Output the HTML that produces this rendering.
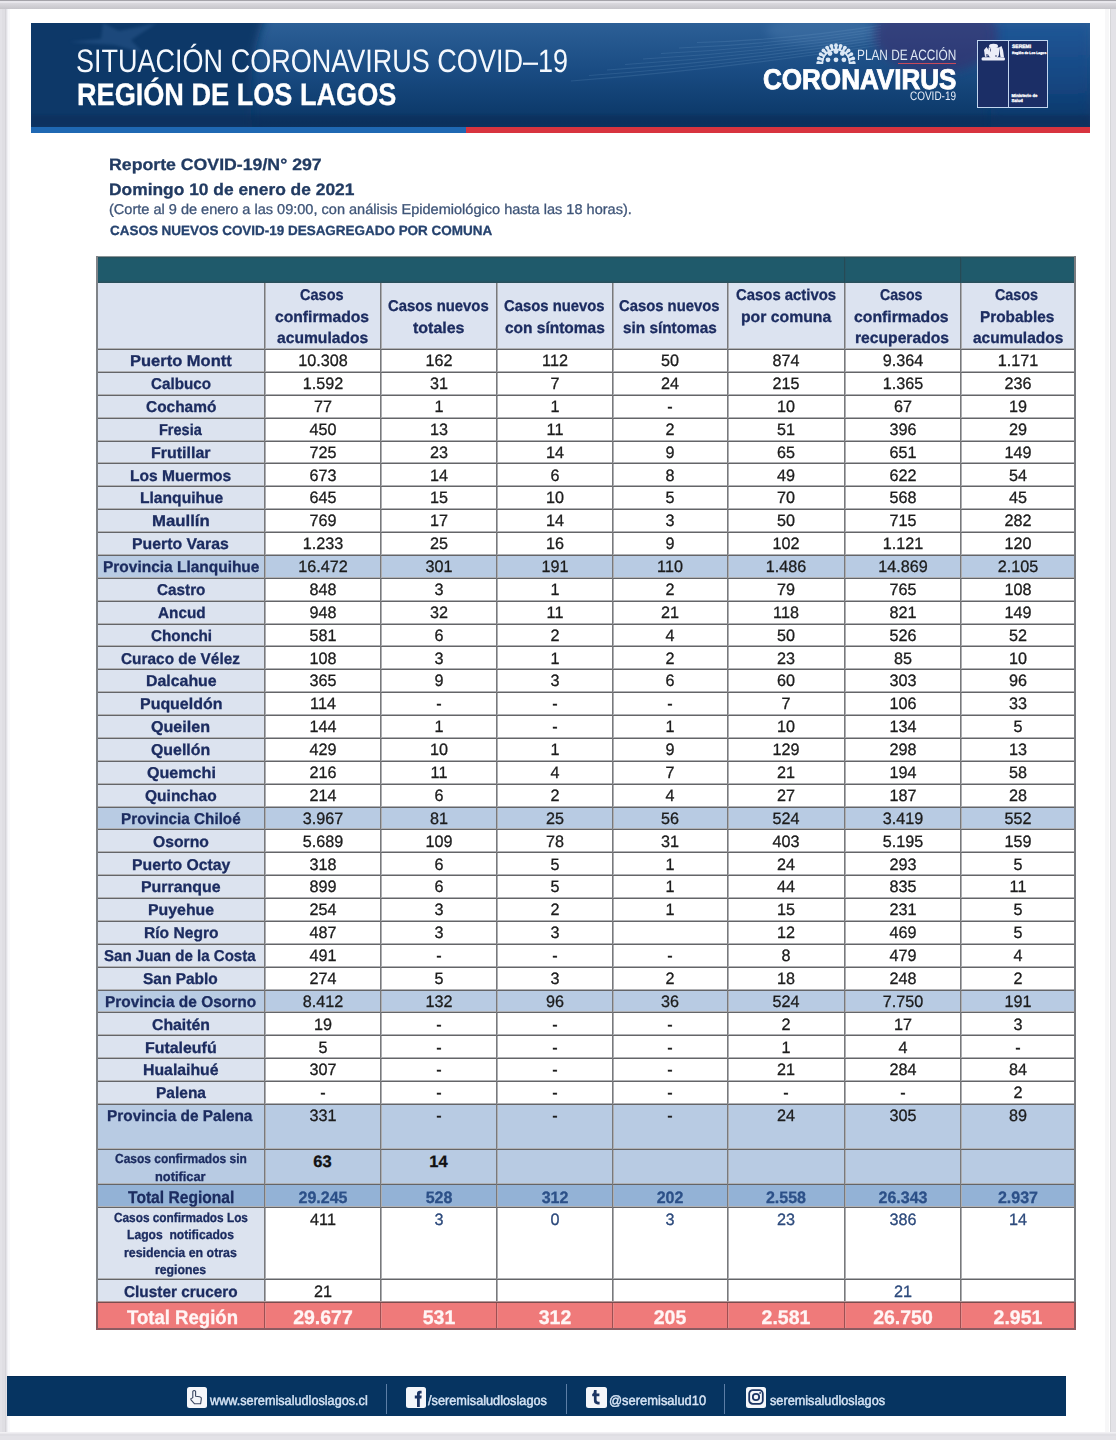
<!DOCTYPE html>
<html lang="es"><head><meta charset="utf-8"><title>Reporte COVID-19 Los Lagos</title>
<style>
html,body{margin:0;padding:0;}
body{width:1116px;height:1440px;overflow:hidden;position:relative;background:#e3e2e7;font-family:"Liberation Sans",sans-serif;}
body>div,body>svg{position:absolute;}
.t{position:absolute;white-space:pre;line-height:0;text-rendering:geometricPrecision;-webkit-text-stroke:0.3px currentColor;}
</style></head><body>
<div style="left:0px;top:0px;width:1116px;height:1440px;background:#e3e2e7;"></div>
<div style="left:0px;top:0px;width:1116px;height:1px;background:#a4a3a9;"></div>
<div style="left:0px;top:1px;width:1116px;height:2px;background:#e7e6eb;"></div>
<div style="left:0px;top:3px;width:1116px;height:6px;background:linear-gradient(#dbdadf,#c6c5ca);"></div>
<div style="left:5px;top:9px;width:1px;height:1426px;background:#d5d4d9;"></div>
<div style="left:2px;top:9px;width:3px;height:1423px;background:#dfdee3;"></div>
<div style="left:1110px;top:9px;width:1px;height:1425px;background:#d5d5d8;"></div>
<div style="left:0px;top:1432px;width:1116px;height:1px;background:#f1f0f3;"></div>
<div style="left:0px;top:1433px;width:1116px;height:1px;background:#e9e8ec;"></div>
<div style="left:0px;top:1434px;width:1116px;height:2px;background:#dfdee3;"></div>
<div style="left:7px;top:9px;width:1103px;height:1423px;background:#ffffff;"></div>
<div style="left:7px;top:9px;width:1px;height:1423px;background:#f0f0f4;"></div>
<div style="left:8px;top:9px;width:2px;height:1423px;background:#f9f9fb;"></div>
<div style="left:1105px;top:9px;width:4px;height:1423px;background:#f7f7f8;"></div>
<svg style="position:absolute;left:31px;top:23px" width="1059" height="104" viewBox="0 0 1059 104">
<defs>
<linearGradient id="gv" x1="0" y1="0" x2="0" y2="1">
<stop offset="0" stop-color="#2c5f96"/><stop offset="0.45" stop-color="#1a4c83"/><stop offset="0.8" stop-color="#0f3d6f"/><stop offset="1" stop-color="#0a3462"/></linearGradient>
<linearGradient id="gr" x1="0" y1="0" x2="0" y2="1">
<stop offset="0" stop-color="#215797"/><stop offset="0.6" stop-color="#134580"/><stop offset="1" stop-color="#0b3565"/></linearGradient>
<filter id="b4" x="-20%" y="-50%" width="140%" height="200%"><feGaussianBlur stdDeviation="5"/></filter>
<filter id="b2"><feGaussianBlur stdDeviation="1.5"/></filter>
</defs>
<rect x="0" y="0" width="1059" height="104" fill="url(#gv)"/>
<rect x="960" y="0" width="99" height="104" fill="url(#gr)" filter="url(#b4)"/>
<path d="M-10 -10 H236 Q214 40 222 114 H-10 Z" fill="#0c3767" filter="url(#b4)"/>
<path d="M38 19 L70 16 L72 0 L88 8 L126 0 L100 17 L112 30 L84 22 Z" fill="#36649a" opacity="0.38" filter="url(#b2)"/>
<path d="M540 58.0 Q695.0 46.0 850 22.0" stroke="#8ab2da" stroke-width="1.1" fill="none" opacity="0.16"/>
<path d="M558 52.5 Q704.0 41.9 850 19.2" stroke="#8ab2da" stroke-width="1.1" fill="none" opacity="0.16"/>
<path d="M576 47.0 Q713.0 37.7 850 16.4" stroke="#8ab2da" stroke-width="1.1" fill="none" opacity="0.16"/>
<path d="M594 41.5 Q722.0 33.5 850 13.6" stroke="#8ab2da" stroke-width="1.1" fill="none" opacity="0.16"/>
<path d="M612 36.0 Q731.0 29.4 850 10.8" stroke="#8ab2da" stroke-width="1.1" fill="none" opacity="0.16"/>
<path d="M630 30.5 Q740.0 25.2 850 8.0" stroke="#8ab2da" stroke-width="1.1" fill="none" opacity="0.16"/>
<path d="M648 25.0 Q749.0 21.1 850 5.2" stroke="#8ab2da" stroke-width="1.1" fill="none" opacity="0.16"/>
<path d="M666 19.5 Q758.0 17.0 850 2.4" stroke="#8ab2da" stroke-width="1.1" fill="none" opacity="0.16"/>
<ellipse cx="790" cy="8" rx="55" ry="14" fill="#6a98c8" opacity="0.22" filter="url(#b4)"/>
<ellipse cx="905" cy="12" rx="62" ry="38" fill="#3a2a6a" opacity="0.55" filter="url(#b4)"/>
<rect x="0" y="92" width="1059" height="12" fill="#072b55" opacity="0.45" filter="url(#b2)"/>
</svg>
<div style="left:31px;top:127px;width:435px;height:6px;background:#1f68b3;"></div>
<div style="left:466px;top:127px;width:624px;height:6px;background:#d8343f;"></div>
<div style="left:977px;top:40px;width:69px;height:66px;border:1.4px solid #c2d6ef;background:#1b2e66;"></div>
<div style="left:1007.6px;top:40px;width:1.4px;height:68px;background:#c2d6ef;"></div>
<svg style="position:absolute;left:980px;top:42px" width="27" height="21" viewBox="980 42 27 21">
<g fill="#eceef8">
<ellipse cx="993.5" cy="46" rx="4.5" ry="2.2"/>
<path d="M988.5 47.5 H999 V54 Q999 58 993.7 59 Q988.5 58 988.5 54 Z"/>
<path d="M984 50 L986.5 47 L990 52 L988 56 L985 57 Z"/>
<path d="M999 47.5 L1001.5 46 L1003 50 L1004 57 L1000.5 57 Z"/>
<rect x="981.5" y="57.3" width="23.5" height="3.2" rx="1.5"/>
</g>
<g fill="#2a3566" opacity="0.7"><circle cx="987" cy="55" r="1.1"/><circle cx="996" cy="56" r="0.9"/><rect x="990" y="48.5" width="1" height="3"/></g>
</svg>
<div class="t" style="left:1012px;top:45px;font-size:5px;font-weight:700;color:#fff;line-height:5px">SEREMI</div>
<div class="t" style="left:1012px;top:51px;font-size:3.4px;font-weight:700;color:#fff;line-height:4px">Región de Los Lagos</div>
<div class="t" style="left:1011.5px;top:94px;font-size:4.2px;font-weight:700;color:#fff;line-height:4.6px">Ministerio de<br>Salud</div>
<svg style="position:absolute;left:813.5px;top:39.4px" width="44" height="25" viewBox="813.5 39.4 44 25"><g fill="#dbe7f4" stroke="none"><line x1="822.70" y1="63.40" x2="817.70" y2="63.40" stroke="#dbe7f4" stroke-width="2.6"/><circle cx="817.70" cy="63.40" r="1.9"/><line x1="823.14" y1="60.09" x2="818.31" y2="58.79" stroke="#dbe7f4" stroke-width="2.6"/><circle cx="818.31" cy="58.79" r="1.9"/><line x1="824.41" y1="57.00" x2="820.08" y2="54.50" stroke="#dbe7f4" stroke-width="2.6"/><circle cx="820.08" cy="54.50" r="1.9"/><line x1="826.45" y1="54.35" x2="822.91" y2="50.81" stroke="#dbe7f4" stroke-width="2.6"/><circle cx="822.91" cy="50.81" r="1.9"/><line x1="829.10" y1="52.31" x2="826.60" y2="47.98" stroke="#dbe7f4" stroke-width="2.6"/><circle cx="826.60" cy="47.98" r="1.9"/><line x1="832.19" y1="51.04" x2="830.89" y2="46.21" stroke="#dbe7f4" stroke-width="2.6"/><circle cx="830.89" cy="46.21" r="1.9"/><line x1="835.50" y1="50.60" x2="835.50" y2="45.60" stroke="#dbe7f4" stroke-width="2.6"/><circle cx="835.50" cy="45.60" r="1.9"/><line x1="838.81" y1="51.04" x2="840.11" y2="46.21" stroke="#dbe7f4" stroke-width="2.6"/><circle cx="840.11" cy="46.21" r="1.9"/><line x1="841.90" y1="52.31" x2="844.40" y2="47.98" stroke="#dbe7f4" stroke-width="2.6"/><circle cx="844.40" cy="47.98" r="1.9"/><line x1="844.55" y1="54.35" x2="848.09" y2="50.81" stroke="#dbe7f4" stroke-width="2.6"/><circle cx="848.09" cy="50.81" r="1.9"/><line x1="846.59" y1="57.00" x2="850.92" y2="54.50" stroke="#dbe7f4" stroke-width="2.6"/><circle cx="850.92" cy="54.50" r="1.9"/><line x1="847.86" y1="60.09" x2="852.69" y2="58.79" stroke="#dbe7f4" stroke-width="2.6"/><circle cx="852.69" cy="58.79" r="1.9"/><line x1="848.30" y1="63.40" x2="853.30" y2="63.40" stroke="#dbe7f4" stroke-width="2.6"/><circle cx="853.30" cy="63.40" r="1.9"/><path d="M821.9 63.4 A13.6 13.6 0 0 1 849.1 63.4" fill="none" stroke="#dbe7f4" stroke-width="1.6"/><circle cx="829.5" cy="53.9" r="2.4"/><circle cx="835.5" cy="51.9" r="2.4"/><circle cx="841.8" cy="53.9" r="2.4"/><circle cx="827.5" cy="60.199999999999996" r="2.4"/><circle cx="835.5" cy="60.199999999999996" r="2.4"/><circle cx="843.4" cy="60.199999999999996" r="2.4"/></g></svg>
<div style="left:898px;top:63px;width:57.5px;height:1.2px;background:#c84a5a;"></div>
<div style="left:96px;top:257px;width:980px;height:26px;background:linear-gradient(180deg,#2a4f5a 0px,#1f5a6b 2px,#1f5a6b 23px,#2b4d58 26px);"></div>
<div style="left:96px;top:283px;width:980px;height:66px;background:#dce3f0;"></div>
<div style="left:96px;top:349.0px;width:168.5px;height:22.87900000000002px;background:#dce3ef;"></div>
<div style="left:96px;top:371.879px;width:168.5px;height:22.878999999999962px;background:#dce3ef;"></div>
<div style="left:96px;top:394.758px;width:168.5px;height:22.87900000000002px;background:#dce3ef;"></div>
<div style="left:96px;top:417.637px;width:168.5px;height:22.87900000000002px;background:#dce3ef;"></div>
<div style="left:96px;top:440.516px;width:168.5px;height:22.878999999999962px;background:#dce3ef;"></div>
<div style="left:96px;top:463.395px;width:168.5px;height:22.87900000000002px;background:#dce3ef;"></div>
<div style="left:96px;top:486.274px;width:168.5px;height:22.87900000000002px;background:#dce3ef;"></div>
<div style="left:96px;top:509.153px;width:168.5px;height:22.87900000000002px;background:#dce3ef;"></div>
<div style="left:96px;top:532.032px;width:168.5px;height:22.87900000000002px;background:#dce3ef;"></div>
<div style="left:96px;top:554.9110000000001px;width:980px;height:22.878999999999905px;background:#b8cbe3;"></div>
<div style="left:96px;top:577.79px;width:168.5px;height:22.87900000000002px;background:#dce3ef;"></div>
<div style="left:96px;top:600.669px;width:168.5px;height:22.87900000000002px;background:#dce3ef;"></div>
<div style="left:96px;top:623.548px;width:168.5px;height:22.87900000000002px;background:#dce3ef;"></div>
<div style="left:96px;top:646.427px;width:168.5px;height:22.87900000000002px;background:#dce3ef;"></div>
<div style="left:96px;top:669.306px;width:168.5px;height:22.878999999999905px;background:#dce3ef;"></div>
<div style="left:96px;top:692.185px;width:168.5px;height:22.879000000000133px;background:#dce3ef;"></div>
<div style="left:96px;top:715.0640000000001px;width:168.5px;height:22.878999999999905px;background:#dce3ef;"></div>
<div style="left:96px;top:737.943px;width:168.5px;height:22.87900000000002px;background:#dce3ef;"></div>
<div style="left:96px;top:760.822px;width:168.5px;height:22.87900000000002px;background:#dce3ef;"></div>
<div style="left:96px;top:783.701px;width:168.5px;height:22.87900000000002px;background:#dce3ef;"></div>
<div style="left:96px;top:806.58px;width:980px;height:22.87900000000002px;background:#b8cbe3;"></div>
<div style="left:96px;top:829.4590000000001px;width:168.5px;height:22.878999999999905px;background:#dce3ef;"></div>
<div style="left:96px;top:852.338px;width:168.5px;height:22.87900000000002px;background:#dce3ef;"></div>
<div style="left:96px;top:875.217px;width:168.5px;height:22.87900000000002px;background:#dce3ef;"></div>
<div style="left:96px;top:898.096px;width:168.5px;height:22.87900000000002px;background:#dce3ef;"></div>
<div style="left:96px;top:920.975px;width:168.5px;height:22.87900000000002px;background:#dce3ef;"></div>
<div style="left:96px;top:943.854px;width:168.5px;height:22.87900000000002px;background:#dce3ef;"></div>
<div style="left:96px;top:966.7330000000001px;width:168.5px;height:22.87900000000002px;background:#dce3ef;"></div>
<div style="left:96px;top:989.6120000000001px;width:980px;height:22.878999999999905px;background:#b8cbe3;"></div>
<div style="left:96px;top:1012.491px;width:168.5px;height:22.878999999999905px;background:#dce3ef;"></div>
<div style="left:96px;top:1035.37px;width:168.5px;height:22.879000000000133px;background:#dce3ef;"></div>
<div style="left:96px;top:1058.249px;width:168.5px;height:22.879000000000133px;background:#dce3ef;"></div>
<div style="left:96px;top:1081.1280000000002px;width:168.5px;height:22.878999999999905px;background:#dce3ef;"></div>
<div style="left:96px;top:1104.007px;width:980px;height:80.29299999999989px;background:#b8cbe3;"></div>
<div style="left:96px;top:1184.3px;width:980px;height:22.799999999999955px;background:#93b2d6;"></div>
<div style="left:96px;top:1207.1px;width:168.5px;height:94.90000000000009px;background:#dce3ef;"></div>
<div style="left:96px;top:1302.0px;width:980px;height:26.90000000000009px;background:#ef7a7a;"></div>
<div style="left:96px;top:348px;width:980px;height:1px;background:#b0b1b4;"></div>
<div style="left:96px;top:371px;width:980px;height:1px;background:#b0b1b4;"></div>
<div style="left:96px;top:394px;width:980px;height:1px;background:#b0b1b4;"></div>
<div style="left:96px;top:417px;width:980px;height:1px;background:#b0b1b4;"></div>
<div style="left:96px;top:440px;width:980px;height:1px;background:#b0b1b4;"></div>
<div style="left:96px;top:462px;width:980px;height:1px;background:#b0b1b4;"></div>
<div style="left:96px;top:485px;width:980px;height:1px;background:#b0b1b4;"></div>
<div style="left:96px;top:508px;width:980px;height:1px;background:#b0b1b4;"></div>
<div style="left:96px;top:531px;width:980px;height:1px;background:#b0b1b4;"></div>
<div style="left:96px;top:554px;width:980px;height:1px;background:#b0b1b4;"></div>
<div style="left:96px;top:577px;width:980px;height:1px;background:#b0b1b4;"></div>
<div style="left:96px;top:600px;width:980px;height:1px;background:#b0b1b4;"></div>
<div style="left:96px;top:623px;width:980px;height:1px;background:#b0b1b4;"></div>
<div style="left:96px;top:645px;width:980px;height:1px;background:#b0b1b4;"></div>
<div style="left:96px;top:668px;width:980px;height:1px;background:#b0b1b4;"></div>
<div style="left:96px;top:691px;width:980px;height:1px;background:#b0b1b4;"></div>
<div style="left:96px;top:714px;width:980px;height:1px;background:#b0b1b4;"></div>
<div style="left:96px;top:737px;width:980px;height:1px;background:#b0b1b4;"></div>
<div style="left:96px;top:760px;width:980px;height:1px;background:#b0b1b4;"></div>
<div style="left:96px;top:783px;width:980px;height:1px;background:#b0b1b4;"></div>
<div style="left:96px;top:806px;width:980px;height:1px;background:#b0b1b4;"></div>
<div style="left:96px;top:828px;width:980px;height:1px;background:#b0b1b4;"></div>
<div style="left:96px;top:851px;width:980px;height:1px;background:#b0b1b4;"></div>
<div style="left:96px;top:874px;width:980px;height:1px;background:#b0b1b4;"></div>
<div style="left:96px;top:897px;width:980px;height:1px;background:#b0b1b4;"></div>
<div style="left:96px;top:920px;width:980px;height:1px;background:#b0b1b4;"></div>
<div style="left:96px;top:943px;width:980px;height:1px;background:#b0b1b4;"></div>
<div style="left:96px;top:966px;width:980px;height:1px;background:#b0b1b4;"></div>
<div style="left:96px;top:989px;width:980px;height:1px;background:#b0b1b4;"></div>
<div style="left:96px;top:1011px;width:980px;height:1px;background:#b0b1b4;"></div>
<div style="left:96px;top:1034px;width:980px;height:1px;background:#b0b1b4;"></div>
<div style="left:96px;top:1057px;width:980px;height:1px;background:#b0b1b4;"></div>
<div style="left:96px;top:1080px;width:980px;height:1px;background:#b0b1b4;"></div>
<div style="left:96px;top:1103px;width:980px;height:1px;background:#b0b1b4;"></div>
<div style="left:96px;top:1148px;width:980px;height:1px;background:#b0b1b4;"></div>
<div style="left:96px;top:1183px;width:980px;height:1px;background:#b0b1b4;"></div>
<div style="left:96px;top:1206px;width:980px;height:1px;background:#b0b1b4;"></div>
<div style="left:96px;top:1278px;width:980px;height:1px;background:#b0b1b4;"></div>
<div style="left:96px;top:1301px;width:980px;height:1px;background:#b0b1b4;"></div>
<div style="left:96px;top:1328px;width:980px;height:1px;background:#b0b1b4;"></div>
<div style="left:265px;top:283px;width:1px;height:1046px;background:#acadb0;"></div>
<div style="left:381px;top:283px;width:1px;height:1046px;background:#acadb0;"></div>
<div style="left:497px;top:283px;width:1px;height:1046px;background:#acadb0;"></div>
<div style="left:613px;top:283px;width:1px;height:1046px;background:#acadb0;"></div>
<div style="left:728px;top:283px;width:1px;height:1046px;background:#acadb0;"></div>
<div style="left:845px;top:283px;width:1px;height:1046px;background:#acadb0;"></div>
<div style="left:961px;top:283px;width:1px;height:1046px;background:#acadb0;"></div>
<div style="left:96px;top:349px;width:980px;height:1px;background:#646568;"></div>
<div style="left:96px;top:372px;width:980px;height:1px;background:#646568;"></div>
<div style="left:96px;top:395px;width:980px;height:1px;background:#646568;"></div>
<div style="left:96px;top:418px;width:980px;height:1px;background:#646568;"></div>
<div style="left:96px;top:441px;width:980px;height:1px;background:#646568;"></div>
<div style="left:96px;top:463px;width:980px;height:1px;background:#646568;"></div>
<div style="left:96px;top:486px;width:980px;height:1px;background:#646568;"></div>
<div style="left:96px;top:509px;width:980px;height:1px;background:#646568;"></div>
<div style="left:96px;top:532px;width:980px;height:1px;background:#646568;"></div>
<div style="left:96px;top:555px;width:980px;height:1px;background:#646568;"></div>
<div style="left:96px;top:578px;width:980px;height:1px;background:#646568;"></div>
<div style="left:96px;top:601px;width:980px;height:1px;background:#646568;"></div>
<div style="left:96px;top:624px;width:980px;height:1px;background:#646568;"></div>
<div style="left:96px;top:646px;width:980px;height:1px;background:#646568;"></div>
<div style="left:96px;top:669px;width:980px;height:1px;background:#646568;"></div>
<div style="left:96px;top:692px;width:980px;height:1px;background:#646568;"></div>
<div style="left:96px;top:715px;width:980px;height:1px;background:#646568;"></div>
<div style="left:96px;top:738px;width:980px;height:1px;background:#646568;"></div>
<div style="left:96px;top:761px;width:980px;height:1px;background:#646568;"></div>
<div style="left:96px;top:784px;width:980px;height:1px;background:#646568;"></div>
<div style="left:96px;top:807px;width:980px;height:1px;background:#646568;"></div>
<div style="left:96px;top:829px;width:980px;height:1px;background:#646568;"></div>
<div style="left:96px;top:852px;width:980px;height:1px;background:#646568;"></div>
<div style="left:96px;top:875px;width:980px;height:1px;background:#646568;"></div>
<div style="left:96px;top:898px;width:980px;height:1px;background:#646568;"></div>
<div style="left:96px;top:921px;width:980px;height:1px;background:#646568;"></div>
<div style="left:96px;top:944px;width:980px;height:1px;background:#646568;"></div>
<div style="left:96px;top:967px;width:980px;height:1px;background:#646568;"></div>
<div style="left:96px;top:990px;width:980px;height:1px;background:#646568;"></div>
<div style="left:96px;top:1012px;width:980px;height:1px;background:#646568;"></div>
<div style="left:96px;top:1035px;width:980px;height:1px;background:#646568;"></div>
<div style="left:96px;top:1058px;width:980px;height:1px;background:#646568;"></div>
<div style="left:96px;top:1081px;width:980px;height:1px;background:#646568;"></div>
<div style="left:96px;top:1104px;width:980px;height:1px;background:#646568;"></div>
<div style="left:96px;top:1149px;width:980px;height:1px;background:#646568;"></div>
<div style="left:96px;top:1184px;width:980px;height:1px;background:#646568;"></div>
<div style="left:96px;top:1207px;width:980px;height:1px;background:#646568;"></div>
<div style="left:96px;top:1279px;width:980px;height:1px;background:#646568;"></div>
<div style="left:96px;top:1302px;width:980px;height:1px;background:#646568;"></div>
<div style="left:96px;top:1329px;width:980px;height:1px;background:#646568;"></div>
<div style="left:264px;top:283px;width:1px;height:1046px;background:#78797c;"></div>
<div style="left:380px;top:283px;width:1px;height:1046px;background:#78797c;"></div>
<div style="left:496px;top:283px;width:1px;height:1046px;background:#78797c;"></div>
<div style="left:612px;top:283px;width:1px;height:1046px;background:#78797c;"></div>
<div style="left:727px;top:283px;width:1px;height:1046px;background:#78797c;"></div>
<div style="left:844px;top:283px;width:1px;height:1046px;background:#78797c;"></div>
<div style="left:960px;top:283px;width:1px;height:1046px;background:#78797c;"></div>
<div style="left:264px;top:1303px;width:1px;height:26px;background:#9e4f52;"></div>
<div style="left:265px;top:1303px;width:1px;height:26px;background:#e58c8c;"></div>
<div style="left:380px;top:1303px;width:1px;height:26px;background:#9e4f52;"></div>
<div style="left:381px;top:1303px;width:1px;height:26px;background:#e58c8c;"></div>
<div style="left:496px;top:1303px;width:1px;height:26px;background:#9e4f52;"></div>
<div style="left:497px;top:1303px;width:1px;height:26px;background:#e58c8c;"></div>
<div style="left:612px;top:1303px;width:1px;height:26px;background:#9e4f52;"></div>
<div style="left:613px;top:1303px;width:1px;height:26px;background:#e58c8c;"></div>
<div style="left:727px;top:1303px;width:1px;height:26px;background:#9e4f52;"></div>
<div style="left:728px;top:1303px;width:1px;height:26px;background:#e58c8c;"></div>
<div style="left:844px;top:1303px;width:1px;height:26px;background:#9e4f52;"></div>
<div style="left:845px;top:1303px;width:1px;height:26px;background:#e58c8c;"></div>
<div style="left:960px;top:1303px;width:1px;height:26px;background:#9e4f52;"></div>
<div style="left:961px;top:1303px;width:1px;height:26px;background:#e58c8c;"></div>
<div style="left:96px;top:1302px;width:980px;height:1px;background:#7a4c4e;"></div>
<div style="left:96px;top:1301px;width:980px;height:1px;background:#b09a9a;"></div>
<div style="left:96px;top:256px;width:980px;height:1px;background:#8a9598;"></div>
<div style="left:844px;top:257px;width:1px;height:26px;background:#264a55;"></div>
<div style="left:845px;top:257px;width:1px;height:26px;background:#245565;"></div>
<div style="left:960px;top:257px;width:1px;height:26px;background:#264a55;"></div>
<div style="left:961px;top:257px;width:1px;height:26px;background:#245565;"></div>
<div style="left:96px;top:256px;width:2px;height:1073px;background:#7f8388;"></div>
<div style="left:1074px;top:256px;width:2px;height:1073px;background:#7a7c80;"></div>
<div style="left:96px;top:1302px;width:2px;height:27px;background:#8a5a5e;"></div>
<div style="left:1074px;top:1302px;width:2px;height:27px;background:#8a5a5e;"></div>
<div style="left:96px;top:1328px;width:980px;height:2px;background:#8c5c62;"></div>
<div style="left:7px;top:1376px;width:1059px;height:40px;background:#063461;"></div>
<div style="left:7px;top:1376px;width:1059px;height:1px;background:#052c55;"></div>
<div style="left:386px;top:1384px;width:1.3px;height:30px;background:#5c7ea6;"></div>
<div style="left:566px;top:1384px;width:1.3px;height:30px;background:#5c7ea6;"></div>
<div style="left:724px;top:1384px;width:1.3px;height:30px;background:#5c7ea6;"></div>
<div style="left:186.8px;top:1387px;width:20.5px;height:20.5px;background:#f4f6fa;border-radius:2.5px;overflow:hidden"><svg width="20" height="20" viewBox="0 0 20 20"><path d="M5.8 10.5 L5.8 4.4 Q7.2 2.6 8.6 4.4 L8.6 9.2 L12.6 9.8 Q14.7 10.2 14.3 12.2 L13.6 16.8 L7.6 16.8 L4 12.8 Q3.4 11 5 11.2 Z" fill="none" stroke="#3a4660" stroke-width="1.1" stroke-linejoin="round"/></svg></div>
<div style="left:405.5px;top:1387px;width:20.5px;height:20.5px;background:#f4f6fa;border-radius:2.5px;overflow:hidden"><svg width="20" height="20" viewBox="0 0 20 20"><path d="M11 20 L11 11.5 L8.8 11.5 L8.8 8.6 L11 8.6 L11 6.6 Q11 3.8 13.9 3.8 L15.6 3.8 L15.6 6.5 L14.4 6.5 Q13.8 6.5 13.8 7.2 L13.8 8.6 L15.7 8.6 L15.4 11.5 L13.8 11.5 L13.8 20 Z" fill="#1c3563"/></svg></div>
<div style="left:586.3px;top:1387px;width:20.5px;height:20.5px;background:#f4f6fa;border-radius:2.5px;overflow:hidden"><svg width="20" height="20" viewBox="0 0 20 20"><path d="M8 3 L10.6 3 L10.6 6.6 L13.4 6.6 L13.4 9.2 L10.6 9.2 L10.6 13 Q10.6 14.8 12.3 14.8 L13.6 14.8 L13.6 17.4 L11.8 17.4 Q7.9 17.4 7.9 13.6 L7.9 9.2 L6.2 9.2 L6.2 7 Q8 6.4 8 3 Z" fill="#1c3563"/></svg></div>
<div style="left:745.6px;top:1387px;width:20.5px;height:20.5px;background:#f4f6fa;border-radius:2.5px;overflow:hidden"><svg width="20" height="20" viewBox="0 0 20 20"><rect x="3.2" y="3.2" width="13.6" height="13.6" rx="3.6" fill="none" stroke="#1c3563" stroke-width="1.8"/><circle cx="10" cy="10" r="3.2" fill="none" stroke="#1c3563" stroke-width="1.8"/><circle cx="14.1" cy="5.9" r="0.9" fill="#1c3563"/></svg></div>
<div class="t" style="top:60.5px;font-size:32.5px;font-weight:400;color:#f4f8fd;left:75.94px;transform:scaleX(0.8315);transform-origin:0 0;-webkit-text-stroke:0;">SITUACIÓN CORONAVIRUS COVID–19</div>
<div class="t" style="top:95.4px;font-size:31px;font-weight:700;color:#ffffff;left:76.95px;transform:scaleX(0.8746);transform-origin:0 0;">REGIÓN DE LOS LAGOS</div>
<div class="t" style="top:56.4px;font-size:15px;font-weight:400;color:#dfe8f4;left:856.81px;transform:scaleX(0.7887);transform-origin:0 0;-webkit-text-stroke:0;">PLAN DE ACCIÓN</div>
<div class="t" style="top:79.6px;font-size:28.5px;font-weight:700;color:#ffffff;left:762.59px;transform:scaleX(0.9138);transform-origin:0 0;-webkit-text-stroke:0.9px #fff;">CORONAVIRUS</div>
<div class="t" style="top:96px;font-size:12.3px;font-weight:400;color:#e8eef8;left:909.99px;transform:scaleX(0.8109);transform-origin:0 0;-webkit-text-stroke:0;">COVID-19</div>
<div class="t" style="top:164.9px;font-size:16.4px;font-weight:700;color:#223b62;left:109.02px;transform:scaleX(1.0800);transform-origin:0 0;">Reporte COVID-19/N° 297</div>
<div class="t" style="top:189.9px;font-size:16.6px;font-weight:700;color:#223b62;left:109.05px;transform:scaleX(1.0476);transform-origin:0 0;">Domingo 10 de enero de 2021</div>
<div class="t" style="top:210.3px;font-size:14.2px;font-weight:400;color:#3f5578;left:109.08px;transform:scaleX(1.0246);transform-origin:0 0;">(Corte al 9 de enero a las 09:00, con análisis Epidemiológico hasta las 18 horas).</div>
<div class="t" style="top:231.1px;font-size:13.4px;font-weight:700;color:#26436f;left:110.1px;transform:scaleX(1.0050);transform-origin:0 0;">CASOS NUEVOS COVID-19 DESAGREGADO POR COMUNA</div>
<div class="t" style="top:296.4px;font-size:15.6px;font-weight:700;color:#1c2c60;left:300.47px;transform:scaleX(0.9311);transform-origin:0 0;">Casos</div>
<div class="t" style="top:317.9px;font-size:15.6px;font-weight:700;color:#1c2c60;left:275.09px;transform:scaleX(1.0054);transform-origin:0 0;">confirmados</div>
<div class="t" style="top:339.4px;font-size:15.6px;font-weight:700;color:#1c2c60;left:277.2px;transform:scaleX(1.0033);transform-origin:0 0;">acumulados</div>
<div class="t" style="top:307.3px;font-size:15.6px;font-weight:700;color:#1c2c60;left:388.05px;transform:scaleX(0.9519);transform-origin:0 0;">Casos nuevos</div>
<div class="t" style="top:328.5px;font-size:15.6px;font-weight:700;color:#1c2c60;left:412.7px;transform:scaleX(1.0240);transform-origin:0 0;">totales</div>
<div class="t" style="top:307.3px;font-size:15.6px;font-weight:700;color:#1c2c60;left:503.55px;transform:scaleX(0.9510);transform-origin:0 0;">Casos nuevos</div>
<div class="t" style="top:328.5px;font-size:15.6px;font-weight:700;color:#1c2c60;left:504.51px;transform:scaleX(0.9929);transform-origin:0 0;">con síntomas</div>
<div class="t" style="top:307.3px;font-size:15.6px;font-weight:700;color:#1c2c60;left:619.35px;transform:scaleX(0.9500);transform-origin:0 0;">Casos nuevos</div>
<div class="t" style="top:328.5px;font-size:15.6px;font-weight:700;color:#1c2c60;left:622.52px;transform:scaleX(0.9830);transform-origin:0 0;">sin síntomas</div>
<div class="t" style="top:295.8px;font-size:15.6px;font-weight:700;color:#1c2c60;left:735.55px;transform:scaleX(0.9544);transform-origin:0 0;">Casos activos</div>
<div class="t" style="top:317.5px;font-size:15.6px;font-weight:700;color:#1c2c60;left:740.69px;transform:scaleX(1.0102);transform-origin:0 0;">por comuna</div>
<div class="t" style="top:296.4px;font-size:15.6px;font-weight:700;color:#1c2c60;left:880.39px;transform:scaleX(0.9067);transform-origin:0 0;">Casos</div>
<div class="t" style="top:317.9px;font-size:15.6px;font-weight:700;color:#1c2c60;left:853.89px;transform:scaleX(1.0109);transform-origin:0 0;">confirmados</div>
<div class="t" style="top:339.4px;font-size:15.6px;font-weight:700;color:#1c2c60;left:854.5px;transform:scaleX(1.0043);transform-origin:0 0;">recuperados</div>
<div class="t" style="top:296.2px;font-size:15.6px;font-weight:700;color:#1c2c60;left:995.28px;transform:scaleX(0.9200);transform-origin:0 0;">Casos</div>
<div class="t" style="top:317.7px;font-size:15.6px;font-weight:700;color:#1c2c60;left:979.81px;transform:scaleX(0.9851);transform-origin:0 0;">Probables</div>
<div class="t" style="top:339.2px;font-size:15.6px;font-weight:700;color:#1c2c60;left:972.5px;transform:scaleX(0.9922);transform-origin:0 0;">acumulados</div>
<div class="t" style="top:362.18px;font-size:15.7px;font-weight:700;color:#1c2c60;left:129.65px;transform:scaleX(1.0521);transform-origin:0 0;">Puerto Montt</div>
<div class="t" style="top:361.18px;font-size:16.5px;font-weight:400;color:#1c1c1c;left:22.5px;width:600px;text-align:center;transform:scaleX(0.98);transform-origin:300px 0;">10.308</div>
<div class="t" style="top:361.18px;font-size:16.5px;font-weight:400;color:#1c1c1c;left:138.5px;width:600px;text-align:center;transform:scaleX(0.98);transform-origin:300px 0;">162</div>
<div class="t" style="top:361.18px;font-size:16.5px;font-weight:400;color:#1c1c1c;left:254.5px;width:600px;text-align:center;transform:scaleX(0.98);transform-origin:300px 0;">112</div>
<div class="t" style="top:361.18px;font-size:16.5px;font-weight:400;color:#1c1c1c;left:370.0px;width:600px;text-align:center;transform:scaleX(0.98);transform-origin:300px 0;">50</div>
<div class="t" style="top:361.18px;font-size:16.5px;font-weight:400;color:#1c1c1c;left:486.0px;width:600px;text-align:center;transform:scaleX(0.98);transform-origin:300px 0;">874</div>
<div class="t" style="top:361.18px;font-size:16.5px;font-weight:400;color:#1c1c1c;left:602.5px;width:600px;text-align:center;transform:scaleX(0.98);transform-origin:300px 0;">9.364</div>
<div class="t" style="top:361.18px;font-size:16.5px;font-weight:400;color:#1c1c1c;left:717.75px;width:600px;text-align:center;transform:scaleX(0.98);transform-origin:300px 0;">1.171</div>
<div class="t" style="top:385.06px;font-size:15.7px;font-weight:700;color:#1c2c60;left:151.13px;transform:scaleX(0.9683);transform-origin:0 0;">Calbuco</div>
<div class="t" style="top:384.06px;font-size:16.5px;font-weight:400;color:#1c1c1c;left:22.5px;width:600px;text-align:center;transform:scaleX(0.98);transform-origin:300px 0;">1.592</div>
<div class="t" style="top:384.06px;font-size:16.5px;font-weight:400;color:#1c1c1c;left:138.5px;width:600px;text-align:center;transform:scaleX(0.98);transform-origin:300px 0;">31</div>
<div class="t" style="top:384.06px;font-size:16.5px;font-weight:400;color:#1c1c1c;left:254.5px;width:600px;text-align:center;transform:scaleX(0.98);transform-origin:300px 0;">7</div>
<div class="t" style="top:384.06px;font-size:16.5px;font-weight:400;color:#1c1c1c;left:370.0px;width:600px;text-align:center;transform:scaleX(0.98);transform-origin:300px 0;">24</div>
<div class="t" style="top:384.06px;font-size:16.5px;font-weight:400;color:#1c1c1c;left:486.0px;width:600px;text-align:center;transform:scaleX(0.98);transform-origin:300px 0;">215</div>
<div class="t" style="top:384.06px;font-size:16.5px;font-weight:400;color:#1c1c1c;left:602.5px;width:600px;text-align:center;transform:scaleX(0.98);transform-origin:300px 0;">1.365</div>
<div class="t" style="top:384.06px;font-size:16.5px;font-weight:400;color:#1c1c1c;left:717.75px;width:600px;text-align:center;transform:scaleX(0.98);transform-origin:300px 0;">236</div>
<div class="t" style="top:407.94px;font-size:15.7px;font-weight:700;color:#1c2c60;left:145.72px;transform:scaleX(0.9843);transform-origin:0 0;">Cochamó</div>
<div class="t" style="top:406.94px;font-size:16.5px;font-weight:400;color:#1c1c1c;left:22.5px;width:600px;text-align:center;transform:scaleX(0.98);transform-origin:300px 0;">77</div>
<div class="t" style="top:406.94px;font-size:16.5px;font-weight:400;color:#1c1c1c;left:138.5px;width:600px;text-align:center;transform:scaleX(0.98);transform-origin:300px 0;">1</div>
<div class="t" style="top:406.94px;font-size:16.5px;font-weight:400;color:#1c1c1c;left:254.5px;width:600px;text-align:center;transform:scaleX(0.98);transform-origin:300px 0;">1</div>
<div class="t" style="top:406.94px;font-size:16.5px;font-weight:400;color:#1c1c1c;left:370.0px;width:600px;text-align:center;transform:scaleX(0.98);transform-origin:300px 0;">-</div>
<div class="t" style="top:406.94px;font-size:16.5px;font-weight:400;color:#1c1c1c;left:486.0px;width:600px;text-align:center;transform:scaleX(0.98);transform-origin:300px 0;">10</div>
<div class="t" style="top:406.94px;font-size:16.5px;font-weight:400;color:#1c1c1c;left:602.5px;width:600px;text-align:center;transform:scaleX(0.98);transform-origin:300px 0;">67</div>
<div class="t" style="top:406.94px;font-size:16.5px;font-weight:400;color:#1c1c1c;left:717.75px;width:600px;text-align:center;transform:scaleX(0.98);transform-origin:300px 0;">19</div>
<div class="t" style="top:430.82px;font-size:15.7px;font-weight:700;color:#1c2c60;left:158.77px;transform:scaleX(0.9261);transform-origin:0 0;">Fresia</div>
<div class="t" style="top:429.82px;font-size:16.5px;font-weight:400;color:#1c1c1c;left:22.5px;width:600px;text-align:center;transform:scaleX(0.98);transform-origin:300px 0;">450</div>
<div class="t" style="top:429.82px;font-size:16.5px;font-weight:400;color:#1c1c1c;left:138.5px;width:600px;text-align:center;transform:scaleX(0.98);transform-origin:300px 0;">13</div>
<div class="t" style="top:429.82px;font-size:16.5px;font-weight:400;color:#1c1c1c;left:254.5px;width:600px;text-align:center;transform:scaleX(0.98);transform-origin:300px 0;">11</div>
<div class="t" style="top:429.82px;font-size:16.5px;font-weight:400;color:#1c1c1c;left:370.0px;width:600px;text-align:center;transform:scaleX(0.98);transform-origin:300px 0;">2</div>
<div class="t" style="top:429.82px;font-size:16.5px;font-weight:400;color:#1c1c1c;left:486.0px;width:600px;text-align:center;transform:scaleX(0.98);transform-origin:300px 0;">51</div>
<div class="t" style="top:429.82px;font-size:16.5px;font-weight:400;color:#1c1c1c;left:602.5px;width:600px;text-align:center;transform:scaleX(0.98);transform-origin:300px 0;">396</div>
<div class="t" style="top:429.82px;font-size:16.5px;font-weight:400;color:#1c1c1c;left:717.75px;width:600px;text-align:center;transform:scaleX(0.98);transform-origin:300px 0;">29</div>
<div class="t" style="top:453.7px;font-size:15.7px;font-weight:700;color:#1c2c60;left:151.38px;transform:scaleX(1.0193);transform-origin:0 0;">Frutillar</div>
<div class="t" style="top:452.7px;font-size:16.5px;font-weight:400;color:#1c1c1c;left:22.5px;width:600px;text-align:center;transform:scaleX(0.98);transform-origin:300px 0;">725</div>
<div class="t" style="top:452.7px;font-size:16.5px;font-weight:400;color:#1c1c1c;left:138.5px;width:600px;text-align:center;transform:scaleX(0.98);transform-origin:300px 0;">23</div>
<div class="t" style="top:452.7px;font-size:16.5px;font-weight:400;color:#1c1c1c;left:254.5px;width:600px;text-align:center;transform:scaleX(0.98);transform-origin:300px 0;">14</div>
<div class="t" style="top:452.7px;font-size:16.5px;font-weight:400;color:#1c1c1c;left:370.0px;width:600px;text-align:center;transform:scaleX(0.98);transform-origin:300px 0;">9</div>
<div class="t" style="top:452.7px;font-size:16.5px;font-weight:400;color:#1c1c1c;left:486.0px;width:600px;text-align:center;transform:scaleX(0.98);transform-origin:300px 0;">65</div>
<div class="t" style="top:452.7px;font-size:16.5px;font-weight:400;color:#1c1c1c;left:602.5px;width:600px;text-align:center;transform:scaleX(0.98);transform-origin:300px 0;">651</div>
<div class="t" style="top:452.7px;font-size:16.5px;font-weight:400;color:#1c1c1c;left:717.75px;width:600px;text-align:center;transform:scaleX(0.98);transform-origin:300px 0;">149</div>
<div class="t" style="top:476.57px;font-size:15.7px;font-weight:700;color:#1c2c60;left:130.01px;transform:scaleX(0.9931);transform-origin:0 0;">Los Muermos</div>
<div class="t" style="top:475.57px;font-size:16.5px;font-weight:400;color:#1c1c1c;left:22.5px;width:600px;text-align:center;transform:scaleX(0.98);transform-origin:300px 0;">673</div>
<div class="t" style="top:475.57px;font-size:16.5px;font-weight:400;color:#1c1c1c;left:138.5px;width:600px;text-align:center;transform:scaleX(0.98);transform-origin:300px 0;">14</div>
<div class="t" style="top:475.57px;font-size:16.5px;font-weight:400;color:#1c1c1c;left:254.5px;width:600px;text-align:center;transform:scaleX(0.98);transform-origin:300px 0;">6</div>
<div class="t" style="top:475.57px;font-size:16.5px;font-weight:400;color:#1c1c1c;left:370.0px;width:600px;text-align:center;transform:scaleX(0.98);transform-origin:300px 0;">8</div>
<div class="t" style="top:475.57px;font-size:16.5px;font-weight:400;color:#1c1c1c;left:486.0px;width:600px;text-align:center;transform:scaleX(0.98);transform-origin:300px 0;">49</div>
<div class="t" style="top:475.57px;font-size:16.5px;font-weight:400;color:#1c1c1c;left:602.5px;width:600px;text-align:center;transform:scaleX(0.98);transform-origin:300px 0;">622</div>
<div class="t" style="top:475.57px;font-size:16.5px;font-weight:400;color:#1c1c1c;left:717.75px;width:600px;text-align:center;transform:scaleX(0.98);transform-origin:300px 0;">54</div>
<div class="t" style="top:499.45px;font-size:15.7px;font-weight:700;color:#1c2c60;left:139.5px;transform:scaleX(0.9951);transform-origin:0 0;">Llanquihue</div>
<div class="t" style="top:498.45px;font-size:16.5px;font-weight:400;color:#1c1c1c;left:22.5px;width:600px;text-align:center;transform:scaleX(0.98);transform-origin:300px 0;">645</div>
<div class="t" style="top:498.45px;font-size:16.5px;font-weight:400;color:#1c1c1c;left:138.5px;width:600px;text-align:center;transform:scaleX(0.98);transform-origin:300px 0;">15</div>
<div class="t" style="top:498.45px;font-size:16.5px;font-weight:400;color:#1c1c1c;left:254.5px;width:600px;text-align:center;transform:scaleX(0.98);transform-origin:300px 0;">10</div>
<div class="t" style="top:498.45px;font-size:16.5px;font-weight:400;color:#1c1c1c;left:370.0px;width:600px;text-align:center;transform:scaleX(0.98);transform-origin:300px 0;">5</div>
<div class="t" style="top:498.45px;font-size:16.5px;font-weight:400;color:#1c1c1c;left:486.0px;width:600px;text-align:center;transform:scaleX(0.98);transform-origin:300px 0;">70</div>
<div class="t" style="top:498.45px;font-size:16.5px;font-weight:400;color:#1c1c1c;left:602.5px;width:600px;text-align:center;transform:scaleX(0.98);transform-origin:300px 0;">568</div>
<div class="t" style="top:498.45px;font-size:16.5px;font-weight:400;color:#1c1c1c;left:717.75px;width:600px;text-align:center;transform:scaleX(0.98);transform-origin:300px 0;">45</div>
<div class="t" style="top:522.33px;font-size:15.7px;font-weight:700;color:#1c2c60;left:152.03px;transform:scaleX(1.0692);transform-origin:0 0;">Maullín</div>
<div class="t" style="top:521.33px;font-size:16.5px;font-weight:400;color:#1c1c1c;left:22.5px;width:600px;text-align:center;transform:scaleX(0.98);transform-origin:300px 0;">769</div>
<div class="t" style="top:521.33px;font-size:16.5px;font-weight:400;color:#1c1c1c;left:138.5px;width:600px;text-align:center;transform:scaleX(0.98);transform-origin:300px 0;">17</div>
<div class="t" style="top:521.33px;font-size:16.5px;font-weight:400;color:#1c1c1c;left:254.5px;width:600px;text-align:center;transform:scaleX(0.98);transform-origin:300px 0;">14</div>
<div class="t" style="top:521.33px;font-size:16.5px;font-weight:400;color:#1c1c1c;left:370.0px;width:600px;text-align:center;transform:scaleX(0.98);transform-origin:300px 0;">3</div>
<div class="t" style="top:521.33px;font-size:16.5px;font-weight:400;color:#1c1c1c;left:486.0px;width:600px;text-align:center;transform:scaleX(0.98);transform-origin:300px 0;">50</div>
<div class="t" style="top:521.33px;font-size:16.5px;font-weight:400;color:#1c1c1c;left:602.5px;width:600px;text-align:center;transform:scaleX(0.98);transform-origin:300px 0;">715</div>
<div class="t" style="top:521.33px;font-size:16.5px;font-weight:400;color:#1c1c1c;left:717.75px;width:600px;text-align:center;transform:scaleX(0.98);transform-origin:300px 0;">282</div>
<div class="t" style="top:545.21px;font-size:15.7px;font-weight:700;color:#1c2c60;left:131.99px;transform:scaleX(1.0084);transform-origin:0 0;">Puerto Varas</div>
<div class="t" style="top:544.21px;font-size:16.5px;font-weight:400;color:#1c1c1c;left:22.5px;width:600px;text-align:center;transform:scaleX(0.98);transform-origin:300px 0;">1.233</div>
<div class="t" style="top:544.21px;font-size:16.5px;font-weight:400;color:#1c1c1c;left:138.5px;width:600px;text-align:center;transform:scaleX(0.98);transform-origin:300px 0;">25</div>
<div class="t" style="top:544.21px;font-size:16.5px;font-weight:400;color:#1c1c1c;left:254.5px;width:600px;text-align:center;transform:scaleX(0.98);transform-origin:300px 0;">16</div>
<div class="t" style="top:544.21px;font-size:16.5px;font-weight:400;color:#1c1c1c;left:370.0px;width:600px;text-align:center;transform:scaleX(0.98);transform-origin:300px 0;">9</div>
<div class="t" style="top:544.21px;font-size:16.5px;font-weight:400;color:#1c1c1c;left:486.0px;width:600px;text-align:center;transform:scaleX(0.98);transform-origin:300px 0;">102</div>
<div class="t" style="top:544.21px;font-size:16.5px;font-weight:400;color:#1c1c1c;left:602.5px;width:600px;text-align:center;transform:scaleX(0.98);transform-origin:300px 0;">1.121</div>
<div class="t" style="top:544.21px;font-size:16.5px;font-weight:400;color:#1c1c1c;left:717.75px;width:600px;text-align:center;transform:scaleX(0.98);transform-origin:300px 0;">120</div>
<div class="t" style="top:568.09px;font-size:15.7px;font-weight:700;color:#1c2c60;left:102.91px;transform:scaleX(0.9860);transform-origin:0 0;">Provincia Llanquihue</div>
<div class="t" style="top:567.09px;font-size:16.5px;font-weight:400;color:#1c1c1c;left:22.5px;width:600px;text-align:center;transform:scaleX(0.98);transform-origin:300px 0;">16.472</div>
<div class="t" style="top:567.09px;font-size:16.5px;font-weight:400;color:#1c1c1c;left:138.5px;width:600px;text-align:center;transform:scaleX(0.98);transform-origin:300px 0;">301</div>
<div class="t" style="top:567.09px;font-size:16.5px;font-weight:400;color:#1c1c1c;left:254.5px;width:600px;text-align:center;transform:scaleX(0.98);transform-origin:300px 0;">191</div>
<div class="t" style="top:567.09px;font-size:16.5px;font-weight:400;color:#1c1c1c;left:370.0px;width:600px;text-align:center;transform:scaleX(0.98);transform-origin:300px 0;">110</div>
<div class="t" style="top:567.09px;font-size:16.5px;font-weight:400;color:#1c1c1c;left:486.0px;width:600px;text-align:center;transform:scaleX(0.98);transform-origin:300px 0;">1.486</div>
<div class="t" style="top:567.09px;font-size:16.5px;font-weight:400;color:#1c1c1c;left:602.5px;width:600px;text-align:center;transform:scaleX(0.98);transform-origin:300px 0;">14.869</div>
<div class="t" style="top:567.09px;font-size:16.5px;font-weight:400;color:#1c1c1c;left:717.75px;width:600px;text-align:center;transform:scaleX(0.98);transform-origin:300px 0;">2.105</div>
<div class="t" style="top:590.97px;font-size:15.7px;font-weight:700;color:#1c2c60;left:156.72px;transform:scaleX(0.9750);transform-origin:0 0;">Castro</div>
<div class="t" style="top:589.97px;font-size:16.5px;font-weight:400;color:#1c1c1c;left:22.5px;width:600px;text-align:center;transform:scaleX(0.98);transform-origin:300px 0;">848</div>
<div class="t" style="top:589.97px;font-size:16.5px;font-weight:400;color:#1c1c1c;left:138.5px;width:600px;text-align:center;transform:scaleX(0.98);transform-origin:300px 0;">3</div>
<div class="t" style="top:589.97px;font-size:16.5px;font-weight:400;color:#1c1c1c;left:254.5px;width:600px;text-align:center;transform:scaleX(0.98);transform-origin:300px 0;">1</div>
<div class="t" style="top:589.97px;font-size:16.5px;font-weight:400;color:#1c1c1c;left:370.0px;width:600px;text-align:center;transform:scaleX(0.98);transform-origin:300px 0;">2</div>
<div class="t" style="top:589.97px;font-size:16.5px;font-weight:400;color:#1c1c1c;left:486.0px;width:600px;text-align:center;transform:scaleX(0.98);transform-origin:300px 0;">79</div>
<div class="t" style="top:589.97px;font-size:16.5px;font-weight:400;color:#1c1c1c;left:602.5px;width:600px;text-align:center;transform:scaleX(0.98);transform-origin:300px 0;">765</div>
<div class="t" style="top:589.97px;font-size:16.5px;font-weight:400;color:#1c1c1c;left:717.75px;width:600px;text-align:center;transform:scaleX(0.98);transform-origin:300px 0;">108</div>
<div class="t" style="top:613.85px;font-size:15.7px;font-weight:700;color:#1c2c60;left:157.7px;transform:scaleX(0.9750);transform-origin:0 0;">Ancud</div>
<div class="t" style="top:612.85px;font-size:16.5px;font-weight:400;color:#1c1c1c;left:22.5px;width:600px;text-align:center;transform:scaleX(0.98);transform-origin:300px 0;">948</div>
<div class="t" style="top:612.85px;font-size:16.5px;font-weight:400;color:#1c1c1c;left:138.5px;width:600px;text-align:center;transform:scaleX(0.98);transform-origin:300px 0;">32</div>
<div class="t" style="top:612.85px;font-size:16.5px;font-weight:400;color:#1c1c1c;left:254.5px;width:600px;text-align:center;transform:scaleX(0.98);transform-origin:300px 0;">11</div>
<div class="t" style="top:612.85px;font-size:16.5px;font-weight:400;color:#1c1c1c;left:370.0px;width:600px;text-align:center;transform:scaleX(0.98);transform-origin:300px 0;">21</div>
<div class="t" style="top:612.85px;font-size:16.5px;font-weight:400;color:#1c1c1c;left:486.0px;width:600px;text-align:center;transform:scaleX(0.98);transform-origin:300px 0;">118</div>
<div class="t" style="top:612.85px;font-size:16.5px;font-weight:400;color:#1c1c1c;left:602.5px;width:600px;text-align:center;transform:scaleX(0.98);transform-origin:300px 0;">821</div>
<div class="t" style="top:612.85px;font-size:16.5px;font-weight:400;color:#1c1c1c;left:717.75px;width:600px;text-align:center;transform:scaleX(0.98);transform-origin:300px 0;">149</div>
<div class="t" style="top:636.73px;font-size:15.7px;font-weight:700;color:#1c2c60;left:150.63px;transform:scaleX(0.9738);transform-origin:0 0;">Chonchi</div>
<div class="t" style="top:635.73px;font-size:16.5px;font-weight:400;color:#1c1c1c;left:22.5px;width:600px;text-align:center;transform:scaleX(0.98);transform-origin:300px 0;">581</div>
<div class="t" style="top:635.73px;font-size:16.5px;font-weight:400;color:#1c1c1c;left:138.5px;width:600px;text-align:center;transform:scaleX(0.98);transform-origin:300px 0;">6</div>
<div class="t" style="top:635.73px;font-size:16.5px;font-weight:400;color:#1c1c1c;left:254.5px;width:600px;text-align:center;transform:scaleX(0.98);transform-origin:300px 0;">2</div>
<div class="t" style="top:635.73px;font-size:16.5px;font-weight:400;color:#1c1c1c;left:370.0px;width:600px;text-align:center;transform:scaleX(0.98);transform-origin:300px 0;">4</div>
<div class="t" style="top:635.73px;font-size:16.5px;font-weight:400;color:#1c1c1c;left:486.0px;width:600px;text-align:center;transform:scaleX(0.98);transform-origin:300px 0;">50</div>
<div class="t" style="top:635.73px;font-size:16.5px;font-weight:400;color:#1c1c1c;left:602.5px;width:600px;text-align:center;transform:scaleX(0.98);transform-origin:300px 0;">526</div>
<div class="t" style="top:635.73px;font-size:16.5px;font-weight:400;color:#1c1c1c;left:717.75px;width:600px;text-align:center;transform:scaleX(0.98);transform-origin:300px 0;">52</div>
<div class="t" style="top:659.61px;font-size:15.7px;font-weight:700;color:#1c2c60;left:121.22px;transform:scaleX(0.9817);transform-origin:0 0;">Curaco de Vélez</div>
<div class="t" style="top:658.61px;font-size:16.5px;font-weight:400;color:#1c1c1c;left:22.5px;width:600px;text-align:center;transform:scaleX(0.98);transform-origin:300px 0;">108</div>
<div class="t" style="top:658.61px;font-size:16.5px;font-weight:400;color:#1c1c1c;left:138.5px;width:600px;text-align:center;transform:scaleX(0.98);transform-origin:300px 0;">3</div>
<div class="t" style="top:658.61px;font-size:16.5px;font-weight:400;color:#1c1c1c;left:254.5px;width:600px;text-align:center;transform:scaleX(0.98);transform-origin:300px 0;">1</div>
<div class="t" style="top:658.61px;font-size:16.5px;font-weight:400;color:#1c1c1c;left:370.0px;width:600px;text-align:center;transform:scaleX(0.98);transform-origin:300px 0;">2</div>
<div class="t" style="top:658.61px;font-size:16.5px;font-weight:400;color:#1c1c1c;left:486.0px;width:600px;text-align:center;transform:scaleX(0.98);transform-origin:300px 0;">23</div>
<div class="t" style="top:658.61px;font-size:16.5px;font-weight:400;color:#1c1c1c;left:602.5px;width:600px;text-align:center;transform:scaleX(0.98);transform-origin:300px 0;">85</div>
<div class="t" style="top:658.61px;font-size:16.5px;font-weight:400;color:#1c1c1c;left:717.75px;width:600px;text-align:center;transform:scaleX(0.98);transform-origin:300px 0;">10</div>
<div class="t" style="top:682.48px;font-size:15.7px;font-weight:700;color:#1c2c60;left:145.69px;transform:scaleX(1.0132);transform-origin:0 0;">Dalcahue</div>
<div class="t" style="top:681.48px;font-size:16.5px;font-weight:400;color:#1c1c1c;left:22.5px;width:600px;text-align:center;transform:scaleX(0.98);transform-origin:300px 0;">365</div>
<div class="t" style="top:681.48px;font-size:16.5px;font-weight:400;color:#1c1c1c;left:138.5px;width:600px;text-align:center;transform:scaleX(0.98);transform-origin:300px 0;">9</div>
<div class="t" style="top:681.48px;font-size:16.5px;font-weight:400;color:#1c1c1c;left:254.5px;width:600px;text-align:center;transform:scaleX(0.98);transform-origin:300px 0;">3</div>
<div class="t" style="top:681.48px;font-size:16.5px;font-weight:400;color:#1c1c1c;left:370.0px;width:600px;text-align:center;transform:scaleX(0.98);transform-origin:300px 0;">6</div>
<div class="t" style="top:681.48px;font-size:16.5px;font-weight:400;color:#1c1c1c;left:486.0px;width:600px;text-align:center;transform:scaleX(0.98);transform-origin:300px 0;">60</div>
<div class="t" style="top:681.48px;font-size:16.5px;font-weight:400;color:#1c1c1c;left:602.5px;width:600px;text-align:center;transform:scaleX(0.98);transform-origin:300px 0;">303</div>
<div class="t" style="top:681.48px;font-size:16.5px;font-weight:400;color:#1c1c1c;left:717.75px;width:600px;text-align:center;transform:scaleX(0.98);transform-origin:300px 0;">96</div>
<div class="t" style="top:705.36px;font-size:15.7px;font-weight:700;color:#1c2c60;left:139.88px;transform:scaleX(1.0165);transform-origin:0 0;">Puqueldón</div>
<div class="t" style="top:704.36px;font-size:16.5px;font-weight:400;color:#1c1c1c;left:22.5px;width:600px;text-align:center;transform:scaleX(0.98);transform-origin:300px 0;">114</div>
<div class="t" style="top:704.36px;font-size:16.5px;font-weight:400;color:#1c1c1c;left:138.5px;width:600px;text-align:center;transform:scaleX(0.98);transform-origin:300px 0;">-</div>
<div class="t" style="top:704.36px;font-size:16.5px;font-weight:400;color:#1c1c1c;left:254.5px;width:600px;text-align:center;transform:scaleX(0.98);transform-origin:300px 0;">-</div>
<div class="t" style="top:704.36px;font-size:16.5px;font-weight:400;color:#1c1c1c;left:370.0px;width:600px;text-align:center;transform:scaleX(0.98);transform-origin:300px 0;">-</div>
<div class="t" style="top:704.36px;font-size:16.5px;font-weight:400;color:#1c1c1c;left:486.0px;width:600px;text-align:center;transform:scaleX(0.98);transform-origin:300px 0;">7</div>
<div class="t" style="top:704.36px;font-size:16.5px;font-weight:400;color:#1c1c1c;left:602.5px;width:600px;text-align:center;transform:scaleX(0.98);transform-origin:300px 0;">106</div>
<div class="t" style="top:704.36px;font-size:16.5px;font-weight:400;color:#1c1c1c;left:717.75px;width:600px;text-align:center;transform:scaleX(0.98);transform-origin:300px 0;">33</div>
<div class="t" style="top:728.24px;font-size:15.7px;font-weight:700;color:#1c2c60;left:151.37px;transform:scaleX(1.0268);transform-origin:0 0;">Queilen</div>
<div class="t" style="top:727.24px;font-size:16.5px;font-weight:400;color:#1c1c1c;left:22.5px;width:600px;text-align:center;transform:scaleX(0.98);transform-origin:300px 0;">144</div>
<div class="t" style="top:727.24px;font-size:16.5px;font-weight:400;color:#1c1c1c;left:138.5px;width:600px;text-align:center;transform:scaleX(0.98);transform-origin:300px 0;">1</div>
<div class="t" style="top:727.24px;font-size:16.5px;font-weight:400;color:#1c1c1c;left:254.5px;width:600px;text-align:center;transform:scaleX(0.98);transform-origin:300px 0;">-</div>
<div class="t" style="top:727.24px;font-size:16.5px;font-weight:400;color:#1c1c1c;left:370.0px;width:600px;text-align:center;transform:scaleX(0.98);transform-origin:300px 0;">1</div>
<div class="t" style="top:727.24px;font-size:16.5px;font-weight:400;color:#1c1c1c;left:486.0px;width:600px;text-align:center;transform:scaleX(0.98);transform-origin:300px 0;">10</div>
<div class="t" style="top:727.24px;font-size:16.5px;font-weight:400;color:#1c1c1c;left:602.5px;width:600px;text-align:center;transform:scaleX(0.98);transform-origin:300px 0;">134</div>
<div class="t" style="top:727.24px;font-size:16.5px;font-weight:400;color:#1c1c1c;left:717.75px;width:600px;text-align:center;transform:scaleX(0.98);transform-origin:300px 0;">5</div>
<div class="t" style="top:751.12px;font-size:15.7px;font-weight:700;color:#1c2c60;left:151.39px;transform:scaleX(1.0140);transform-origin:0 0;">Quellón</div>
<div class="t" style="top:750.12px;font-size:16.5px;font-weight:400;color:#1c1c1c;left:22.5px;width:600px;text-align:center;transform:scaleX(0.98);transform-origin:300px 0;">429</div>
<div class="t" style="top:750.12px;font-size:16.5px;font-weight:400;color:#1c1c1c;left:138.5px;width:600px;text-align:center;transform:scaleX(0.98);transform-origin:300px 0;">10</div>
<div class="t" style="top:750.12px;font-size:16.5px;font-weight:400;color:#1c1c1c;left:254.5px;width:600px;text-align:center;transform:scaleX(0.98);transform-origin:300px 0;">1</div>
<div class="t" style="top:750.12px;font-size:16.5px;font-weight:400;color:#1c1c1c;left:370.0px;width:600px;text-align:center;transform:scaleX(0.98);transform-origin:300px 0;">9</div>
<div class="t" style="top:750.12px;font-size:16.5px;font-weight:400;color:#1c1c1c;left:486.0px;width:600px;text-align:center;transform:scaleX(0.98);transform-origin:300px 0;">129</div>
<div class="t" style="top:750.12px;font-size:16.5px;font-weight:400;color:#1c1c1c;left:602.5px;width:600px;text-align:center;transform:scaleX(0.98);transform-origin:300px 0;">298</div>
<div class="t" style="top:750.12px;font-size:16.5px;font-weight:400;color:#1c1c1c;left:717.75px;width:600px;text-align:center;transform:scaleX(0.98);transform-origin:300px 0;">13</div>
<div class="t" style="top:774.0px;font-size:15.7px;font-weight:700;color:#1c2c60;left:146.77px;transform:scaleX(1.0262);transform-origin:0 0;">Quemchi</div>
<div class="t" style="top:773.0px;font-size:16.5px;font-weight:400;color:#1c1c1c;left:22.5px;width:600px;text-align:center;transform:scaleX(0.98);transform-origin:300px 0;">216</div>
<div class="t" style="top:773.0px;font-size:16.5px;font-weight:400;color:#1c1c1c;left:138.5px;width:600px;text-align:center;transform:scaleX(0.98);transform-origin:300px 0;">11</div>
<div class="t" style="top:773.0px;font-size:16.5px;font-weight:400;color:#1c1c1c;left:254.5px;width:600px;text-align:center;transform:scaleX(0.98);transform-origin:300px 0;">4</div>
<div class="t" style="top:773.0px;font-size:16.5px;font-weight:400;color:#1c1c1c;left:370.0px;width:600px;text-align:center;transform:scaleX(0.98);transform-origin:300px 0;">7</div>
<div class="t" style="top:773.0px;font-size:16.5px;font-weight:400;color:#1c1c1c;left:486.0px;width:600px;text-align:center;transform:scaleX(0.98);transform-origin:300px 0;">21</div>
<div class="t" style="top:773.0px;font-size:16.5px;font-weight:400;color:#1c1c1c;left:602.5px;width:600px;text-align:center;transform:scaleX(0.98);transform-origin:300px 0;">194</div>
<div class="t" style="top:773.0px;font-size:16.5px;font-weight:400;color:#1c1c1c;left:717.75px;width:600px;text-align:center;transform:scaleX(0.98);transform-origin:300px 0;">58</div>
<div class="t" style="top:796.88px;font-size:15.7px;font-weight:700;color:#1c2c60;left:145.01px;transform:scaleX(0.9901);transform-origin:0 0;">Quinchao</div>
<div class="t" style="top:795.88px;font-size:16.5px;font-weight:400;color:#1c1c1c;left:22.5px;width:600px;text-align:center;transform:scaleX(0.98);transform-origin:300px 0;">214</div>
<div class="t" style="top:795.88px;font-size:16.5px;font-weight:400;color:#1c1c1c;left:138.5px;width:600px;text-align:center;transform:scaleX(0.98);transform-origin:300px 0;">6</div>
<div class="t" style="top:795.88px;font-size:16.5px;font-weight:400;color:#1c1c1c;left:254.5px;width:600px;text-align:center;transform:scaleX(0.98);transform-origin:300px 0;">2</div>
<div class="t" style="top:795.88px;font-size:16.5px;font-weight:400;color:#1c1c1c;left:370.0px;width:600px;text-align:center;transform:scaleX(0.98);transform-origin:300px 0;">4</div>
<div class="t" style="top:795.88px;font-size:16.5px;font-weight:400;color:#1c1c1c;left:486.0px;width:600px;text-align:center;transform:scaleX(0.98);transform-origin:300px 0;">27</div>
<div class="t" style="top:795.88px;font-size:16.5px;font-weight:400;color:#1c1c1c;left:602.5px;width:600px;text-align:center;transform:scaleX(0.98);transform-origin:300px 0;">187</div>
<div class="t" style="top:795.88px;font-size:16.5px;font-weight:400;color:#1c1c1c;left:717.75px;width:600px;text-align:center;transform:scaleX(0.98);transform-origin:300px 0;">28</div>
<div class="t" style="top:819.76px;font-size:15.7px;font-weight:700;color:#1c2c60;left:120.63px;transform:scaleX(0.9738);transform-origin:0 0;">Provincia Chiloé</div>
<div class="t" style="top:818.76px;font-size:16.5px;font-weight:400;color:#1c1c1c;left:22.5px;width:600px;text-align:center;transform:scaleX(0.98);transform-origin:300px 0;">3.967</div>
<div class="t" style="top:818.76px;font-size:16.5px;font-weight:400;color:#1c1c1c;left:138.5px;width:600px;text-align:center;transform:scaleX(0.98);transform-origin:300px 0;">81</div>
<div class="t" style="top:818.76px;font-size:16.5px;font-weight:400;color:#1c1c1c;left:254.5px;width:600px;text-align:center;transform:scaleX(0.98);transform-origin:300px 0;">25</div>
<div class="t" style="top:818.76px;font-size:16.5px;font-weight:400;color:#1c1c1c;left:370.0px;width:600px;text-align:center;transform:scaleX(0.98);transform-origin:300px 0;">56</div>
<div class="t" style="top:818.76px;font-size:16.5px;font-weight:400;color:#1c1c1c;left:486.0px;width:600px;text-align:center;transform:scaleX(0.98);transform-origin:300px 0;">524</div>
<div class="t" style="top:818.76px;font-size:16.5px;font-weight:400;color:#1c1c1c;left:602.5px;width:600px;text-align:center;transform:scaleX(0.98);transform-origin:300px 0;">3.419</div>
<div class="t" style="top:818.76px;font-size:16.5px;font-weight:400;color:#1c1c1c;left:717.75px;width:600px;text-align:center;transform:scaleX(0.98);transform-origin:300px 0;">552</div>
<div class="t" style="top:842.64px;font-size:15.7px;font-weight:700;color:#1c2c60;left:152.9px;transform:scaleX(1.0019);transform-origin:0 0;">Osorno</div>
<div class="t" style="top:841.64px;font-size:16.5px;font-weight:400;color:#1c1c1c;left:22.5px;width:600px;text-align:center;transform:scaleX(0.98);transform-origin:300px 0;">5.689</div>
<div class="t" style="top:841.64px;font-size:16.5px;font-weight:400;color:#1c1c1c;left:138.5px;width:600px;text-align:center;transform:scaleX(0.98);transform-origin:300px 0;">109</div>
<div class="t" style="top:841.64px;font-size:16.5px;font-weight:400;color:#1c1c1c;left:254.5px;width:600px;text-align:center;transform:scaleX(0.98);transform-origin:300px 0;">78</div>
<div class="t" style="top:841.64px;font-size:16.5px;font-weight:400;color:#1c1c1c;left:370.0px;width:600px;text-align:center;transform:scaleX(0.98);transform-origin:300px 0;">31</div>
<div class="t" style="top:841.64px;font-size:16.5px;font-weight:400;color:#1c1c1c;left:486.0px;width:600px;text-align:center;transform:scaleX(0.98);transform-origin:300px 0;">403</div>
<div class="t" style="top:841.64px;font-size:16.5px;font-weight:400;color:#1c1c1c;left:602.5px;width:600px;text-align:center;transform:scaleX(0.98);transform-origin:300px 0;">5.195</div>
<div class="t" style="top:841.64px;font-size:16.5px;font-weight:400;color:#1c1c1c;left:717.75px;width:600px;text-align:center;transform:scaleX(0.98);transform-origin:300px 0;">159</div>
<div class="t" style="top:865.52px;font-size:15.7px;font-weight:700;color:#1c2c60;left:131.59px;transform:scaleX(1.0072);transform-origin:0 0;">Puerto Octay</div>
<div class="t" style="top:864.52px;font-size:16.5px;font-weight:400;color:#1c1c1c;left:22.5px;width:600px;text-align:center;transform:scaleX(0.98);transform-origin:300px 0;">318</div>
<div class="t" style="top:864.52px;font-size:16.5px;font-weight:400;color:#1c1c1c;left:138.5px;width:600px;text-align:center;transform:scaleX(0.98);transform-origin:300px 0;">6</div>
<div class="t" style="top:864.52px;font-size:16.5px;font-weight:400;color:#1c1c1c;left:254.5px;width:600px;text-align:center;transform:scaleX(0.98);transform-origin:300px 0;">5</div>
<div class="t" style="top:864.52px;font-size:16.5px;font-weight:400;color:#1c1c1c;left:370.0px;width:600px;text-align:center;transform:scaleX(0.98);transform-origin:300px 0;">1</div>
<div class="t" style="top:864.52px;font-size:16.5px;font-weight:400;color:#1c1c1c;left:486.0px;width:600px;text-align:center;transform:scaleX(0.98);transform-origin:300px 0;">24</div>
<div class="t" style="top:864.52px;font-size:16.5px;font-weight:400;color:#1c1c1c;left:602.5px;width:600px;text-align:center;transform:scaleX(0.98);transform-origin:300px 0;">293</div>
<div class="t" style="top:864.52px;font-size:16.5px;font-weight:400;color:#1c1c1c;left:717.75px;width:600px;text-align:center;transform:scaleX(0.98);transform-origin:300px 0;">5</div>
<div class="t" style="top:888.4px;font-size:15.7px;font-weight:700;color:#1c2c60;left:141.49px;transform:scaleX(1.0143);transform-origin:0 0;">Purranque</div>
<div class="t" style="top:887.4px;font-size:16.5px;font-weight:400;color:#1c1c1c;left:22.5px;width:600px;text-align:center;transform:scaleX(0.98);transform-origin:300px 0;">899</div>
<div class="t" style="top:887.4px;font-size:16.5px;font-weight:400;color:#1c1c1c;left:138.5px;width:600px;text-align:center;transform:scaleX(0.98);transform-origin:300px 0;">6</div>
<div class="t" style="top:887.4px;font-size:16.5px;font-weight:400;color:#1c1c1c;left:254.5px;width:600px;text-align:center;transform:scaleX(0.98);transform-origin:300px 0;">5</div>
<div class="t" style="top:887.4px;font-size:16.5px;font-weight:400;color:#1c1c1c;left:370.0px;width:600px;text-align:center;transform:scaleX(0.98);transform-origin:300px 0;">1</div>
<div class="t" style="top:887.4px;font-size:16.5px;font-weight:400;color:#1c1c1c;left:486.0px;width:600px;text-align:center;transform:scaleX(0.98);transform-origin:300px 0;">44</div>
<div class="t" style="top:887.4px;font-size:16.5px;font-weight:400;color:#1c1c1c;left:602.5px;width:600px;text-align:center;transform:scaleX(0.98);transform-origin:300px 0;">835</div>
<div class="t" style="top:887.4px;font-size:16.5px;font-weight:400;color:#1c1c1c;left:717.75px;width:600px;text-align:center;transform:scaleX(0.98);transform-origin:300px 0;">11</div>
<div class="t" style="top:911.28px;font-size:15.7px;font-weight:700;color:#1c2c60;left:148.29px;transform:scaleX(1.0109);transform-origin:0 0;">Puyehue</div>
<div class="t" style="top:910.28px;font-size:16.5px;font-weight:400;color:#1c1c1c;left:22.5px;width:600px;text-align:center;transform:scaleX(0.98);transform-origin:300px 0;">254</div>
<div class="t" style="top:910.28px;font-size:16.5px;font-weight:400;color:#1c1c1c;left:138.5px;width:600px;text-align:center;transform:scaleX(0.98);transform-origin:300px 0;">3</div>
<div class="t" style="top:910.28px;font-size:16.5px;font-weight:400;color:#1c1c1c;left:254.5px;width:600px;text-align:center;transform:scaleX(0.98);transform-origin:300px 0;">2</div>
<div class="t" style="top:910.28px;font-size:16.5px;font-weight:400;color:#1c1c1c;left:370.0px;width:600px;text-align:center;transform:scaleX(0.98);transform-origin:300px 0;">1</div>
<div class="t" style="top:910.28px;font-size:16.5px;font-weight:400;color:#1c1c1c;left:486.0px;width:600px;text-align:center;transform:scaleX(0.98);transform-origin:300px 0;">15</div>
<div class="t" style="top:910.28px;font-size:16.5px;font-weight:400;color:#1c1c1c;left:602.5px;width:600px;text-align:center;transform:scaleX(0.98);transform-origin:300px 0;">231</div>
<div class="t" style="top:910.28px;font-size:16.5px;font-weight:400;color:#1c1c1c;left:717.75px;width:600px;text-align:center;transform:scaleX(0.98);transform-origin:300px 0;">5</div>
<div class="t" style="top:934.15px;font-size:15.7px;font-weight:700;color:#1c2c60;left:144.01px;transform:scaleX(0.9945);transform-origin:0 0;">Río Negro</div>
<div class="t" style="top:933.15px;font-size:16.5px;font-weight:400;color:#1c1c1c;left:22.5px;width:600px;text-align:center;transform:scaleX(0.98);transform-origin:300px 0;">487</div>
<div class="t" style="top:933.15px;font-size:16.5px;font-weight:400;color:#1c1c1c;left:138.5px;width:600px;text-align:center;transform:scaleX(0.98);transform-origin:300px 0;">3</div>
<div class="t" style="top:933.15px;font-size:16.5px;font-weight:400;color:#1c1c1c;left:254.5px;width:600px;text-align:center;transform:scaleX(0.98);transform-origin:300px 0;">3</div>
<div class="t" style="top:933.15px;font-size:16.5px;font-weight:400;color:#1c1c1c;left:486.0px;width:600px;text-align:center;transform:scaleX(0.98);transform-origin:300px 0;">12</div>
<div class="t" style="top:933.15px;font-size:16.5px;font-weight:400;color:#1c1c1c;left:602.5px;width:600px;text-align:center;transform:scaleX(0.98);transform-origin:300px 0;">469</div>
<div class="t" style="top:933.15px;font-size:16.5px;font-weight:400;color:#1c1c1c;left:717.75px;width:600px;text-align:center;transform:scaleX(0.98);transform-origin:300px 0;">5</div>
<div class="t" style="top:957.03px;font-size:15.7px;font-weight:700;color:#1c2c60;left:104.44px;transform:scaleX(0.9611);transform-origin:0 0;">San Juan de la Costa</div>
<div class="t" style="top:956.03px;font-size:16.5px;font-weight:400;color:#1c1c1c;left:22.5px;width:600px;text-align:center;transform:scaleX(0.98);transform-origin:300px 0;">491</div>
<div class="t" style="top:956.03px;font-size:16.5px;font-weight:400;color:#1c1c1c;left:138.5px;width:600px;text-align:center;transform:scaleX(0.98);transform-origin:300px 0;">-</div>
<div class="t" style="top:956.03px;font-size:16.5px;font-weight:400;color:#1c1c1c;left:254.5px;width:600px;text-align:center;transform:scaleX(0.98);transform-origin:300px 0;">-</div>
<div class="t" style="top:956.03px;font-size:16.5px;font-weight:400;color:#1c1c1c;left:370.0px;width:600px;text-align:center;transform:scaleX(0.98);transform-origin:300px 0;">-</div>
<div class="t" style="top:956.03px;font-size:16.5px;font-weight:400;color:#1c1c1c;left:486.0px;width:600px;text-align:center;transform:scaleX(0.98);transform-origin:300px 0;">8</div>
<div class="t" style="top:956.03px;font-size:16.5px;font-weight:400;color:#1c1c1c;left:602.5px;width:600px;text-align:center;transform:scaleX(0.98);transform-origin:300px 0;">479</div>
<div class="t" style="top:956.03px;font-size:16.5px;font-weight:400;color:#1c1c1c;left:717.75px;width:600px;text-align:center;transform:scaleX(0.98);transform-origin:300px 0;">4</div>
<div class="t" style="top:979.91px;font-size:15.7px;font-weight:700;color:#1c2c60;left:143.31px;transform:scaleX(0.9865);transform-origin:0 0;">San Pablo</div>
<div class="t" style="top:978.91px;font-size:16.5px;font-weight:400;color:#1c1c1c;left:22.5px;width:600px;text-align:center;transform:scaleX(0.98);transform-origin:300px 0;">274</div>
<div class="t" style="top:978.91px;font-size:16.5px;font-weight:400;color:#1c1c1c;left:138.5px;width:600px;text-align:center;transform:scaleX(0.98);transform-origin:300px 0;">5</div>
<div class="t" style="top:978.91px;font-size:16.5px;font-weight:400;color:#1c1c1c;left:254.5px;width:600px;text-align:center;transform:scaleX(0.98);transform-origin:300px 0;">3</div>
<div class="t" style="top:978.91px;font-size:16.5px;font-weight:400;color:#1c1c1c;left:370.0px;width:600px;text-align:center;transform:scaleX(0.98);transform-origin:300px 0;">2</div>
<div class="t" style="top:978.91px;font-size:16.5px;font-weight:400;color:#1c1c1c;left:486.0px;width:600px;text-align:center;transform:scaleX(0.98);transform-origin:300px 0;">18</div>
<div class="t" style="top:978.91px;font-size:16.5px;font-weight:400;color:#1c1c1c;left:602.5px;width:600px;text-align:center;transform:scaleX(0.98);transform-origin:300px 0;">248</div>
<div class="t" style="top:978.91px;font-size:16.5px;font-weight:400;color:#1c1c1c;left:717.75px;width:600px;text-align:center;transform:scaleX(0.98);transform-origin:300px 0;">2</div>
<div class="t" style="top:1002.79px;font-size:15.7px;font-weight:700;color:#1c2c60;left:105.12px;transform:scaleX(0.9849);transform-origin:0 0;">Provincia de Osorno</div>
<div class="t" style="top:1001.79px;font-size:16.5px;font-weight:400;color:#1c1c1c;left:22.5px;width:600px;text-align:center;transform:scaleX(0.98);transform-origin:300px 0;">8.412</div>
<div class="t" style="top:1001.79px;font-size:16.5px;font-weight:400;color:#1c1c1c;left:138.5px;width:600px;text-align:center;transform:scaleX(0.98);transform-origin:300px 0;">132</div>
<div class="t" style="top:1001.79px;font-size:16.5px;font-weight:400;color:#1c1c1c;left:254.5px;width:600px;text-align:center;transform:scaleX(0.98);transform-origin:300px 0;">96</div>
<div class="t" style="top:1001.79px;font-size:16.5px;font-weight:400;color:#1c1c1c;left:370.0px;width:600px;text-align:center;transform:scaleX(0.98);transform-origin:300px 0;">36</div>
<div class="t" style="top:1001.79px;font-size:16.5px;font-weight:400;color:#1c1c1c;left:486.0px;width:600px;text-align:center;transform:scaleX(0.98);transform-origin:300px 0;">524</div>
<div class="t" style="top:1001.79px;font-size:16.5px;font-weight:400;color:#1c1c1c;left:602.5px;width:600px;text-align:center;transform:scaleX(0.98);transform-origin:300px 0;">7.750</div>
<div class="t" style="top:1001.79px;font-size:16.5px;font-weight:400;color:#1c1c1c;left:717.75px;width:600px;text-align:center;transform:scaleX(0.98);transform-origin:300px 0;">191</div>
<div class="t" style="top:1025.67px;font-size:15.7px;font-weight:700;color:#1c2c60;left:151.69px;transform:scaleX(1.0054);transform-origin:0 0;">Chaitén</div>
<div class="t" style="top:1024.67px;font-size:16.5px;font-weight:400;color:#1c1c1c;left:22.5px;width:600px;text-align:center;transform:scaleX(0.98);transform-origin:300px 0;">19</div>
<div class="t" style="top:1024.67px;font-size:16.5px;font-weight:400;color:#1c1c1c;left:138.5px;width:600px;text-align:center;transform:scaleX(0.98);transform-origin:300px 0;">-</div>
<div class="t" style="top:1024.67px;font-size:16.5px;font-weight:400;color:#1c1c1c;left:254.5px;width:600px;text-align:center;transform:scaleX(0.98);transform-origin:300px 0;">-</div>
<div class="t" style="top:1024.67px;font-size:16.5px;font-weight:400;color:#1c1c1c;left:370.0px;width:600px;text-align:center;transform:scaleX(0.98);transform-origin:300px 0;">-</div>
<div class="t" style="top:1024.67px;font-size:16.5px;font-weight:400;color:#1c1c1c;left:486.0px;width:600px;text-align:center;transform:scaleX(0.98);transform-origin:300px 0;">2</div>
<div class="t" style="top:1024.67px;font-size:16.5px;font-weight:400;color:#1c1c1c;left:602.5px;width:600px;text-align:center;transform:scaleX(0.98);transform-origin:300px 0;">17</div>
<div class="t" style="top:1024.67px;font-size:16.5px;font-weight:400;color:#1c1c1c;left:717.75px;width:600px;text-align:center;transform:scaleX(0.98);transform-origin:300px 0;">3</div>
<div class="t" style="top:1048.55px;font-size:15.7px;font-weight:700;color:#1c2c60;left:144.99px;transform:scaleX(1.0145);transform-origin:0 0;">Futaleufú</div>
<div class="t" style="top:1047.55px;font-size:16.5px;font-weight:400;color:#1c1c1c;left:22.5px;width:600px;text-align:center;transform:scaleX(0.98);transform-origin:300px 0;">5</div>
<div class="t" style="top:1047.55px;font-size:16.5px;font-weight:400;color:#1c1c1c;left:138.5px;width:600px;text-align:center;transform:scaleX(0.98);transform-origin:300px 0;">-</div>
<div class="t" style="top:1047.55px;font-size:16.5px;font-weight:400;color:#1c1c1c;left:254.5px;width:600px;text-align:center;transform:scaleX(0.98);transform-origin:300px 0;">-</div>
<div class="t" style="top:1047.55px;font-size:16.5px;font-weight:400;color:#1c1c1c;left:370.0px;width:600px;text-align:center;transform:scaleX(0.98);transform-origin:300px 0;">-</div>
<div class="t" style="top:1047.55px;font-size:16.5px;font-weight:400;color:#1c1c1c;left:486.0px;width:600px;text-align:center;transform:scaleX(0.98);transform-origin:300px 0;">1</div>
<div class="t" style="top:1047.55px;font-size:16.5px;font-weight:400;color:#1c1c1c;left:602.5px;width:600px;text-align:center;transform:scaleX(0.98);transform-origin:300px 0;">4</div>
<div class="t" style="top:1047.55px;font-size:16.5px;font-weight:400;color:#1c1c1c;left:717.75px;width:600px;text-align:center;transform:scaleX(0.98);transform-origin:300px 0;">-</div>
<div class="t" style="top:1071.43px;font-size:15.7px;font-weight:700;color:#1c2c60;left:142.99px;transform:scaleX(1.0081);transform-origin:0 0;">Hualaihué</div>
<div class="t" style="top:1070.43px;font-size:16.5px;font-weight:400;color:#1c1c1c;left:22.5px;width:600px;text-align:center;transform:scaleX(0.98);transform-origin:300px 0;">307</div>
<div class="t" style="top:1070.43px;font-size:16.5px;font-weight:400;color:#1c1c1c;left:138.5px;width:600px;text-align:center;transform:scaleX(0.98);transform-origin:300px 0;">-</div>
<div class="t" style="top:1070.43px;font-size:16.5px;font-weight:400;color:#1c1c1c;left:254.5px;width:600px;text-align:center;transform:scaleX(0.98);transform-origin:300px 0;">-</div>
<div class="t" style="top:1070.43px;font-size:16.5px;font-weight:400;color:#1c1c1c;left:370.0px;width:600px;text-align:center;transform:scaleX(0.98);transform-origin:300px 0;">-</div>
<div class="t" style="top:1070.43px;font-size:16.5px;font-weight:400;color:#1c1c1c;left:486.0px;width:600px;text-align:center;transform:scaleX(0.98);transform-origin:300px 0;">21</div>
<div class="t" style="top:1070.43px;font-size:16.5px;font-weight:400;color:#1c1c1c;left:602.5px;width:600px;text-align:center;transform:scaleX(0.98);transform-origin:300px 0;">284</div>
<div class="t" style="top:1070.43px;font-size:16.5px;font-weight:400;color:#1c1c1c;left:717.75px;width:600px;text-align:center;transform:scaleX(0.98);transform-origin:300px 0;">84</div>
<div class="t" style="top:1094.31px;font-size:15.7px;font-weight:700;color:#1c2c60;left:155.61px;transform:scaleX(0.9880);transform-origin:0 0;">Palena</div>
<div class="t" style="top:1093.31px;font-size:16.5px;font-weight:400;color:#1c1c1c;left:22.5px;width:600px;text-align:center;transform:scaleX(0.98);transform-origin:300px 0;">-</div>
<div class="t" style="top:1093.31px;font-size:16.5px;font-weight:400;color:#1c1c1c;left:138.5px;width:600px;text-align:center;transform:scaleX(0.98);transform-origin:300px 0;">-</div>
<div class="t" style="top:1093.31px;font-size:16.5px;font-weight:400;color:#1c1c1c;left:254.5px;width:600px;text-align:center;transform:scaleX(0.98);transform-origin:300px 0;">-</div>
<div class="t" style="top:1093.31px;font-size:16.5px;font-weight:400;color:#1c1c1c;left:370.0px;width:600px;text-align:center;transform:scaleX(0.98);transform-origin:300px 0;">-</div>
<div class="t" style="top:1093.31px;font-size:16.5px;font-weight:400;color:#1c1c1c;left:486.0px;width:600px;text-align:center;transform:scaleX(0.98);transform-origin:300px 0;">-</div>
<div class="t" style="top:1093.31px;font-size:16.5px;font-weight:400;color:#1c1c1c;left:602.5px;width:600px;text-align:center;transform:scaleX(0.98);transform-origin:300px 0;">-</div>
<div class="t" style="top:1093.31px;font-size:16.5px;font-weight:400;color:#1c1c1c;left:717.75px;width:600px;text-align:center;transform:scaleX(0.98);transform-origin:300px 0;">2</div>
<div class="t" style="top:1117.2px;font-size:15.7px;font-weight:700;color:#1c2c60;left:107.32px;transform:scaleX(0.9811);transform-origin:0 0;">Provincia de Palena</div>
<div class="t" style="top:1116.2px;font-size:16.5px;font-weight:400;color:#1c1c1c;left:22.5px;width:600px;text-align:center;transform:scaleX(0.98);transform-origin:300px 0;">331</div>
<div class="t" style="top:1116.2px;font-size:16.5px;font-weight:400;color:#1c1c1c;left:138.5px;width:600px;text-align:center;transform:scaleX(0.98);transform-origin:300px 0;">-</div>
<div class="t" style="top:1116.2px;font-size:16.5px;font-weight:400;color:#1c1c1c;left:254.5px;width:600px;text-align:center;transform:scaleX(0.98);transform-origin:300px 0;">-</div>
<div class="t" style="top:1116.2px;font-size:16.5px;font-weight:400;color:#1c1c1c;left:370.0px;width:600px;text-align:center;transform:scaleX(0.98);transform-origin:300px 0;">-</div>
<div class="t" style="top:1116.2px;font-size:16.5px;font-weight:400;color:#1c1c1c;left:486.0px;width:600px;text-align:center;transform:scaleX(0.98);transform-origin:300px 0;">24</div>
<div class="t" style="top:1116.2px;font-size:16.5px;font-weight:400;color:#1c1c1c;left:602.5px;width:600px;text-align:center;transform:scaleX(0.98);transform-origin:300px 0;">305</div>
<div class="t" style="top:1116.2px;font-size:16.5px;font-weight:400;color:#1c1c1c;left:717.75px;width:600px;text-align:center;transform:scaleX(0.98);transform-origin:300px 0;">89</div>
<div class="t" style="top:1159.2px;font-size:13.2px;font-weight:700;color:#1c2c60;left:115.0px;transform:scaleX(0.9083);transform-origin:0 0;">Casos confirmados sin</div>
<div class="t" style="top:1176.9px;font-size:13.2px;font-weight:700;color:#1c2c60;left:155.03px;transform:scaleX(0.9706);transform-origin:0 0;">notificar</div>
<div class="t" style="top:1162.2px;font-size:16.5px;font-weight:700;color:#111111;left:22.5px;width:600px;text-align:center;transform:scaleX(1.0);transform-origin:300px 0;">63</div>
<div class="t" style="top:1162.2px;font-size:16.5px;font-weight:700;color:#111111;left:138.5px;width:600px;text-align:center;transform:scaleX(1.0);transform-origin:300px 0;">14</div>
<div class="t" style="top:1197.7px;font-size:17px;font-weight:700;color:#1c2c60;left:128.0px;transform:scaleX(0.9183);transform-origin:0 0;">Total Regional</div>
<div class="t" style="top:1197.7px;font-size:16.5px;font-weight:700;color:#2c5088;left:22.5px;width:600px;text-align:center;transform:scaleX(0.97);transform-origin:300px 0;">29.245</div>
<div class="t" style="top:1197.7px;font-size:16.5px;font-weight:700;color:#2c5088;left:138.5px;width:600px;text-align:center;transform:scaleX(0.97);transform-origin:300px 0;">528</div>
<div class="t" style="top:1197.7px;font-size:16.5px;font-weight:700;color:#2c5088;left:254.5px;width:600px;text-align:center;transform:scaleX(0.97);transform-origin:300px 0;">312</div>
<div class="t" style="top:1197.7px;font-size:16.5px;font-weight:700;color:#2c5088;left:370.0px;width:600px;text-align:center;transform:scaleX(0.97);transform-origin:300px 0;">202</div>
<div class="t" style="top:1197.7px;font-size:16.5px;font-weight:700;color:#2c5088;left:486.0px;width:600px;text-align:center;transform:scaleX(0.97);transform-origin:300px 0;">2.558</div>
<div class="t" style="top:1197.7px;font-size:16.5px;font-weight:700;color:#2c5088;left:602.5px;width:600px;text-align:center;transform:scaleX(0.97);transform-origin:300px 0;">26.343</div>
<div class="t" style="top:1197.7px;font-size:16.5px;font-weight:700;color:#2c5088;left:717.75px;width:600px;text-align:center;transform:scaleX(0.97);transform-origin:300px 0;">2.937</div>
<div class="t" style="top:1217.7px;font-size:13.2px;font-weight:700;color:#1c2c60;left:113.7px;transform:scaleX(0.8960);transform-origin:0 0;">Casos confirmados Los</div>
<div class="t" style="top:1235.4px;font-size:13.2px;font-weight:700;color:#1c2c60;left:127.08px;transform:scaleX(0.9183);transform-origin:0 0;">Lagos  notificados</div>
<div class="t" style="top:1253.1px;font-size:13.2px;font-weight:700;color:#1c2c60;left:123.66px;transform:scaleX(0.9387);transform-origin:0 0;">residencia en otras</div>
<div class="t" style="top:1270.3px;font-size:13.2px;font-weight:700;color:#1c2c60;left:155.07px;transform:scaleX(0.9315);transform-origin:0 0;">regiones</div>
<div class="t" style="top:1220.0px;font-size:16.5px;font-weight:400;color:#1c1c1c;left:22.5px;width:600px;text-align:center;transform:scaleX(0.98);transform-origin:300px 0;">411</div>
<div class="t" style="top:1220.0px;font-size:16.5px;font-weight:400;color:#2d4a7c;left:138.5px;width:600px;text-align:center;transform:scaleX(0.98);transform-origin:300px 0;">3</div>
<div class="t" style="top:1220.0px;font-size:16.5px;font-weight:400;color:#2d4a7c;left:254.5px;width:600px;text-align:center;transform:scaleX(0.98);transform-origin:300px 0;">0</div>
<div class="t" style="top:1220.0px;font-size:16.5px;font-weight:400;color:#2d4a7c;left:370.0px;width:600px;text-align:center;transform:scaleX(0.98);transform-origin:300px 0;">3</div>
<div class="t" style="top:1220.0px;font-size:16.5px;font-weight:400;color:#2d4a7c;left:486.0px;width:600px;text-align:center;transform:scaleX(0.98);transform-origin:300px 0;">23</div>
<div class="t" style="top:1220.0px;font-size:16.5px;font-weight:400;color:#2d4a7c;left:602.5px;width:600px;text-align:center;transform:scaleX(0.98);transform-origin:300px 0;">386</div>
<div class="t" style="top:1220.0px;font-size:16.5px;font-weight:400;color:#2d4a7c;left:717.75px;width:600px;text-align:center;transform:scaleX(0.98);transform-origin:300px 0;">14</div>
<div class="t" style="top:1292.8px;font-size:15.7px;font-weight:700;color:#1c2c60;left:124.42px;transform:scaleX(0.9798);transform-origin:0 0;">Cluster crucero</div>
<div class="t" style="top:1291.8px;font-size:16.5px;font-weight:400;color:#1c1c1c;left:22.5px;width:600px;text-align:center;transform:scaleX(0.98);transform-origin:300px 0;">21</div>
<div class="t" style="top:1291.8px;font-size:16.5px;font-weight:400;color:#2d4a7c;left:602.5px;width:600px;text-align:center;transform:scaleX(0.98);transform-origin:300px 0;">21</div>
<div class="t" style="top:1317.5px;font-size:19.8px;font-weight:700;color:#fff5f5;left:126.5px;transform:scaleX(0.9385);transform-origin:0 0;">Total Región</div>
<div class="t" style="top:1317.5px;font-size:19.8px;font-weight:700;color:#fff5f5;left:22.5px;width:600px;text-align:center;transform:scaleX(0.985);transform-origin:300px 0;">29.677</div>
<div class="t" style="top:1317.5px;font-size:19.8px;font-weight:700;color:#fff5f5;left:138.5px;width:600px;text-align:center;transform:scaleX(0.985);transform-origin:300px 0;">531</div>
<div class="t" style="top:1317.5px;font-size:19.8px;font-weight:700;color:#fff5f5;left:254.5px;width:600px;text-align:center;transform:scaleX(0.985);transform-origin:300px 0;">312</div>
<div class="t" style="top:1317.5px;font-size:19.8px;font-weight:700;color:#fff5f5;left:370.0px;width:600px;text-align:center;transform:scaleX(0.985);transform-origin:300px 0;">205</div>
<div class="t" style="top:1317.5px;font-size:19.8px;font-weight:700;color:#fff5f5;left:486.0px;width:600px;text-align:center;transform:scaleX(0.985);transform-origin:300px 0;">2.581</div>
<div class="t" style="top:1317.5px;font-size:19.8px;font-weight:700;color:#fff5f5;left:602.5px;width:600px;text-align:center;transform:scaleX(0.985);transform-origin:300px 0;">26.750</div>
<div class="t" style="top:1317.5px;font-size:19.8px;font-weight:700;color:#fff5f5;left:717.75px;width:600px;text-align:center;transform:scaleX(0.985);transform-origin:300px 0;">2.951</div>
<div class="t" style="top:1401px;font-size:13.6px;font-weight:400;color:#d6e4f5;left:210.0px;transform:scaleX(0.9320);transform-origin:0 0;-webkit-text-stroke:0.45px currentColor;">www.seremisaludloslagos.cl</div>
<div class="t" style="top:1401px;font-size:13.6px;font-weight:400;color:#d6e4f5;left:428.0px;transform:scaleX(0.9370);transform-origin:0 0;-webkit-text-stroke:0.45px currentColor;">/seremisaludloslagos</div>
<div class="t" style="top:1401px;font-size:13.6px;font-weight:400;color:#d6e4f5;left:609.05px;transform:scaleX(0.9505);transform-origin:0 0;-webkit-text-stroke:0.45px currentColor;">@seremisalud10</div>
<div class="t" style="top:1401px;font-size:13.6px;font-weight:400;color:#d6e4f5;left:769.67px;transform:scaleX(0.9344);transform-origin:0 0;-webkit-text-stroke:0.45px currentColor;">seremisaludloslagos</div>
</body></html>
